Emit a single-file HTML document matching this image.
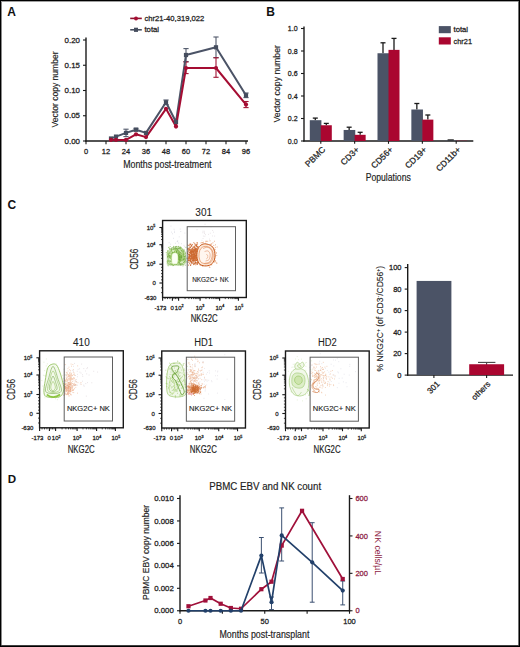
<!DOCTYPE html>
<html><head><meta charset="utf-8"><style>
html,body{margin:0;padding:0;background:#fff;}
svg{display:block;}
svg text{font-family:"Liberation Sans", sans-serif;}
</style></head><body>
<svg width="520" height="647" viewBox="0 0 520 647" font-family="Liberation Sans, sans-serif">
<rect width="520" height="647" fill="#fff"/>
<text x="7.2" y="15.8" font-size="12" font-weight="bold" fill="#111">A</text>
<text x="266.2" y="15.6" font-size="12" font-weight="bold" fill="#111">B</text>
<text x="7.4" y="208.8" font-size="12" font-weight="bold" fill="#111">C</text>
<text x="7.7" y="482.6" font-size="11.6" font-weight="bold" fill="#111">D</text>
<line x1="86" y1="37.5" x2="86" y2="141.6" stroke="#1a1a1a" stroke-width="1.4"/>
<line x1="85.3" y1="141" x2="248" y2="141" stroke="#1a1a1a" stroke-width="1.4"/>
<line x1="83" y1="141" x2="86" y2="141" stroke="#1a1a1a" stroke-width="1.1"/>
<text x="80" y="143.6" font-size="7.5" text-anchor="end" textLength="15.4" lengthAdjust="spacingAndGlyphs" fill="#222" stroke="#222" stroke-width="0.26">0.00</text>
<line x1="83" y1="115.75" x2="86" y2="115.75" stroke="#1a1a1a" stroke-width="1.1"/>
<text x="80" y="118.35" font-size="7.5" text-anchor="end" textLength="15.4" lengthAdjust="spacingAndGlyphs" fill="#222" stroke="#222" stroke-width="0.26">0.05</text>
<line x1="83" y1="90.5" x2="86" y2="90.5" stroke="#1a1a1a" stroke-width="1.1"/>
<text x="80" y="93.1" font-size="7.5" text-anchor="end" textLength="15.4" lengthAdjust="spacingAndGlyphs" fill="#222" stroke="#222" stroke-width="0.26">0.10</text>
<line x1="83" y1="65.25" x2="86" y2="65.25" stroke="#1a1a1a" stroke-width="1.1"/>
<text x="80" y="67.85" font-size="7.5" text-anchor="end" textLength="15.4" lengthAdjust="spacingAndGlyphs" fill="#222" stroke="#222" stroke-width="0.26">0.15</text>
<line x1="83" y1="40" x2="86" y2="40" stroke="#1a1a1a" stroke-width="1.1"/>
<text x="80" y="42.6" font-size="7.5" text-anchor="end" textLength="15.4" lengthAdjust="spacingAndGlyphs" fill="#222" stroke="#222" stroke-width="0.26">0.20</text>
<line x1="86" y1="141" x2="86" y2="144.2" stroke="#1a1a1a" stroke-width="1.1"/>
<text x="86" y="154.3" font-size="7.5" text-anchor="middle" fill="#222" stroke="#222" stroke-width="0.26">0</text>
<line x1="106" y1="141" x2="106" y2="144.2" stroke="#1a1a1a" stroke-width="1.1"/>
<text x="106" y="154.3" font-size="7.5" text-anchor="middle" fill="#222" stroke="#222" stroke-width="0.26">12</text>
<line x1="126" y1="141" x2="126" y2="144.2" stroke="#1a1a1a" stroke-width="1.1"/>
<text x="126" y="154.3" font-size="7.5" text-anchor="middle" fill="#222" stroke="#222" stroke-width="0.26">24</text>
<line x1="146" y1="141" x2="146" y2="144.2" stroke="#1a1a1a" stroke-width="1.1"/>
<text x="146" y="154.3" font-size="7.5" text-anchor="middle" fill="#222" stroke="#222" stroke-width="0.26">36</text>
<line x1="166" y1="141" x2="166" y2="144.2" stroke="#1a1a1a" stroke-width="1.1"/>
<text x="166" y="154.3" font-size="7.5" text-anchor="middle" fill="#222" stroke="#222" stroke-width="0.26">48</text>
<line x1="186" y1="141" x2="186" y2="144.2" stroke="#1a1a1a" stroke-width="1.1"/>
<text x="186" y="154.3" font-size="7.5" text-anchor="middle" fill="#222" stroke="#222" stroke-width="0.26">60</text>
<line x1="206" y1="141" x2="206" y2="144.2" stroke="#1a1a1a" stroke-width="1.1"/>
<text x="206" y="154.3" font-size="7.5" text-anchor="middle" fill="#222" stroke="#222" stroke-width="0.26">72</text>
<line x1="226" y1="141" x2="226" y2="144.2" stroke="#1a1a1a" stroke-width="1.1"/>
<text x="226" y="154.3" font-size="7.5" text-anchor="middle" fill="#222" stroke="#222" stroke-width="0.26">84</text>
<line x1="246" y1="141" x2="246" y2="144.2" stroke="#1a1a1a" stroke-width="1.1"/>
<text x="246" y="154.3" font-size="7.5" text-anchor="middle" fill="#222" stroke="#222" stroke-width="0.26">96</text>
<text x="123.2" y="167.6" font-size="10" textLength="88.3" lengthAdjust="spacingAndGlyphs" fill="#222" stroke="#222" stroke-width="0.17">Months post-treatment</text>
<text transform="translate(58,89.4) rotate(-90)" font-size="9.8" text-anchor="middle" textLength="76" lengthAdjust="spacingAndGlyphs" fill="#222" stroke="#222" stroke-width="0.17">Vector copy number</text>
<line x1="126" y1="129.2" x2="126" y2="136.6" stroke="#50586a" stroke-width="1.1"/>
<line x1="123.4" y1="129.2" x2="128.6" y2="129.2" stroke="#50586a" stroke-width="1.1"/>
<line x1="123.4" y1="136.6" x2="128.6" y2="136.6" stroke="#50586a" stroke-width="1.1"/>
<line x1="136" y1="128.3" x2="136" y2="131" stroke="#50586a" stroke-width="1.1"/>
<line x1="133.4" y1="128.3" x2="138.6" y2="128.3" stroke="#50586a" stroke-width="1.1"/>
<line x1="133.4" y1="131" x2="138.6" y2="131" stroke="#50586a" stroke-width="1.1"/>
<line x1="166" y1="100" x2="166" y2="104.6" stroke="#50586a" stroke-width="1.1"/>
<line x1="163.4" y1="100" x2="168.6" y2="100" stroke="#50586a" stroke-width="1.1"/>
<line x1="163.4" y1="104.6" x2="168.6" y2="104.6" stroke="#50586a" stroke-width="1.1"/>
<line x1="186" y1="48.6" x2="186" y2="61.5" stroke="#50586a" stroke-width="1.1"/>
<line x1="183.4" y1="48.6" x2="188.6" y2="48.6" stroke="#50586a" stroke-width="1.1"/>
<line x1="183.4" y1="61.5" x2="188.6" y2="61.5" stroke="#50586a" stroke-width="1.1"/>
<line x1="216" y1="37" x2="216" y2="57.6" stroke="#50586a" stroke-width="1.1"/>
<line x1="213.4" y1="37" x2="218.6" y2="37" stroke="#50586a" stroke-width="1.1"/>
<line x1="213.4" y1="57.6" x2="218.6" y2="57.6" stroke="#50586a" stroke-width="1.1"/>
<line x1="246" y1="93" x2="246" y2="97.6" stroke="#50586a" stroke-width="1.1"/>
<line x1="243.4" y1="93" x2="248.6" y2="93" stroke="#50586a" stroke-width="1.1"/>
<line x1="243.4" y1="97.6" x2="248.6" y2="97.6" stroke="#50586a" stroke-width="1.1"/>
<line x1="186" y1="62" x2="186" y2="73.6" stroke="#a01535" stroke-width="1.1"/>
<line x1="183.4" y1="62" x2="188.6" y2="62" stroke="#a01535" stroke-width="1.1"/>
<line x1="183.4" y1="73.6" x2="188.6" y2="73.6" stroke="#a01535" stroke-width="1.1"/>
<line x1="216" y1="57.8" x2="216" y2="77.3" stroke="#a01535" stroke-width="1.1"/>
<line x1="213.4" y1="57.8" x2="218.6" y2="57.8" stroke="#a01535" stroke-width="1.1"/>
<line x1="213.4" y1="77.3" x2="218.6" y2="77.3" stroke="#a01535" stroke-width="1.1"/>
<line x1="246" y1="101.5" x2="246" y2="107.6" stroke="#a01535" stroke-width="1.1"/>
<line x1="243.4" y1="101.5" x2="248.6" y2="101.5" stroke="#a01535" stroke-width="1.1"/>
<line x1="243.4" y1="107.6" x2="248.6" y2="107.6" stroke="#a01535" stroke-width="1.1"/>
<polyline points="111,138.5 116,136.6 126,132.9 136,129.7 146,132.9 166,102.3 176,122 186,55 216,47.3 246,95.3" fill="none" stroke="#4b5366" stroke-width="2" stroke-linejoin="round"/>
<polyline points="111,139.9 116,139.9 126,139.9 136,134.3 146,137.1 166,108.8 176,126.6 186,68 216,68 246,104.6" fill="none" stroke="#a50d33" stroke-width="2" stroke-linejoin="round"/>
<rect x="108.9" y="136.4" width="4.2" height="4.2" fill="#454d5e"/>
<rect x="113.9" y="134.5" width="4.2" height="4.2" fill="#454d5e"/>
<rect x="123.9" y="130.8" width="4.2" height="4.2" fill="#454d5e"/>
<rect x="133.9" y="127.6" width="4.2" height="4.2" fill="#454d5e"/>
<rect x="143.9" y="130.8" width="4.2" height="4.2" fill="#454d5e"/>
<rect x="163.9" y="100.2" width="4.2" height="4.2" fill="#454d5e"/>
<rect x="173.9" y="119.9" width="4.2" height="4.2" fill="#454d5e"/>
<rect x="183.9" y="52.9" width="4.2" height="4.2" fill="#454d5e"/>
<rect x="213.9" y="45.2" width="4.2" height="4.2" fill="#454d5e"/>
<rect x="243.9" y="93.2" width="4.2" height="4.2" fill="#454d5e"/>
<circle cx="111" cy="139.9" r="2.1" fill="#a50d33"/>
<circle cx="116" cy="139.9" r="2.1" fill="#a50d33"/>
<circle cx="126" cy="139.9" r="2.1" fill="#a50d33"/>
<circle cx="136" cy="134.3" r="2.1" fill="#a50d33"/>
<circle cx="146" cy="137.1" r="2.1" fill="#a50d33"/>
<circle cx="166" cy="108.8" r="2.1" fill="#a50d33"/>
<circle cx="176" cy="126.6" r="2.1" fill="#a50d33"/>
<circle cx="186" cy="68" r="2.1" fill="#a50d33"/>
<circle cx="216" cy="68" r="2.1" fill="#a50d33"/>
<circle cx="246" cy="104.6" r="2.1" fill="#a50d33"/>
<line x1="130.2" y1="18.4" x2="141.8" y2="18.4" stroke="#8e0f2c" stroke-width="1.6"/>
<circle cx="136" cy="18.4" r="2" fill="#a50d33"/>
<text x="144.4" y="21" font-size="8" textLength="59.9" lengthAdjust="spacingAndGlyphs" fill="#222" stroke="#222" stroke-width="0.26">chr21-40,319,022</text>
<line x1="130.2" y1="29.8" x2="141.8" y2="29.8" stroke="#474f60" stroke-width="1.6"/>
<rect x="134" y="27.7" width="4" height="4.2" fill="#454d5e"/>
<text x="144.4" y="32.3" font-size="8" textLength="14.7" lengthAdjust="spacingAndGlyphs" fill="#222" stroke="#222" stroke-width="0.26">total</text>
<line x1="304" y1="26.5" x2="304" y2="141.6" stroke="#1a1a1a" stroke-width="1.4"/>
<line x1="303.3" y1="141" x2="473.3" y2="141" stroke="#1a1a1a" stroke-width="1.4"/>
<line x1="301" y1="141" x2="304" y2="141" stroke="#1a1a1a" stroke-width="1.1"/>
<text x="297.6" y="143.6" font-size="7.5" text-anchor="end" textLength="9.8" lengthAdjust="spacingAndGlyphs" fill="#222" stroke="#222" stroke-width="0.26">0.0</text>
<line x1="301" y1="118.5" x2="304" y2="118.5" stroke="#1a1a1a" stroke-width="1.1"/>
<text x="297.6" y="121.1" font-size="7.5" text-anchor="end" textLength="9.8" lengthAdjust="spacingAndGlyphs" fill="#222" stroke="#222" stroke-width="0.26">0.2</text>
<line x1="301" y1="96" x2="304" y2="96" stroke="#1a1a1a" stroke-width="1.1"/>
<text x="297.6" y="98.6" font-size="7.5" text-anchor="end" textLength="9.8" lengthAdjust="spacingAndGlyphs" fill="#222" stroke="#222" stroke-width="0.26">0.4</text>
<line x1="301" y1="73.5" x2="304" y2="73.5" stroke="#1a1a1a" stroke-width="1.1"/>
<text x="297.6" y="76.1" font-size="7.5" text-anchor="end" textLength="9.8" lengthAdjust="spacingAndGlyphs" fill="#222" stroke="#222" stroke-width="0.26">0.6</text>
<line x1="301" y1="51" x2="304" y2="51" stroke="#1a1a1a" stroke-width="1.1"/>
<text x="297.6" y="53.6" font-size="7.5" text-anchor="end" textLength="9.8" lengthAdjust="spacingAndGlyphs" fill="#222" stroke="#222" stroke-width="0.26">0.8</text>
<line x1="301" y1="28.5" x2="304" y2="28.5" stroke="#1a1a1a" stroke-width="1.1"/>
<text x="297.6" y="31.1" font-size="7.5" text-anchor="end" textLength="9.8" lengthAdjust="spacingAndGlyphs" fill="#222" stroke="#222" stroke-width="0.26">1.0</text>
<line x1="320.8" y1="141" x2="320.8" y2="143.8" stroke="#1a1a1a" stroke-width="1.1"/>
<line x1="315.3" y1="118.1" x2="315.3" y2="120.19" stroke="#1a1a1a" stroke-width="1.3"/>
<line x1="312.8" y1="118.1" x2="317.8" y2="118.1" stroke="#1a1a1a" stroke-width="1.3"/>
<line x1="326.3" y1="123.4" x2="326.3" y2="125.25" stroke="#1a1a1a" stroke-width="1.3"/>
<line x1="323.8" y1="123.4" x2="328.8" y2="123.4" stroke="#1a1a1a" stroke-width="1.3"/>
<rect x="309.8" y="120.19" width="11.6" height="20.81" fill="#4b5366"/>
<rect x="320.8" y="125.25" width="11" height="15.75" fill="#aa0630"/>
<line x1="354.65" y1="141" x2="354.65" y2="143.8" stroke="#1a1a1a" stroke-width="1.1"/>
<line x1="349.15" y1="127.2" x2="349.15" y2="129.97" stroke="#1a1a1a" stroke-width="1.3"/>
<line x1="346.65" y1="127.2" x2="351.65" y2="127.2" stroke="#1a1a1a" stroke-width="1.3"/>
<line x1="360.15" y1="132.3" x2="360.15" y2="134.81" stroke="#1a1a1a" stroke-width="1.3"/>
<line x1="357.65" y1="132.3" x2="362.65" y2="132.3" stroke="#1a1a1a" stroke-width="1.3"/>
<rect x="343.65" y="129.97" width="11.6" height="11.03" fill="#4b5366"/>
<rect x="354.65" y="134.81" width="11" height="6.19" fill="#aa0630"/>
<line x1="388.5" y1="141" x2="388.5" y2="143.8" stroke="#1a1a1a" stroke-width="1.1"/>
<line x1="383" y1="42.8" x2="383" y2="53.25" stroke="#1a1a1a" stroke-width="1.3"/>
<line x1="380.5" y1="42.8" x2="385.5" y2="42.8" stroke="#1a1a1a" stroke-width="1.3"/>
<line x1="394" y1="38.4" x2="394" y2="49.88" stroke="#1a1a1a" stroke-width="1.3"/>
<line x1="391.5" y1="38.4" x2="396.5" y2="38.4" stroke="#1a1a1a" stroke-width="1.3"/>
<rect x="377.5" y="53.25" width="11.6" height="87.75" fill="#4b5366"/>
<rect x="388.5" y="49.88" width="11" height="91.12" fill="#aa0630"/>
<line x1="422.35" y1="141" x2="422.35" y2="143.8" stroke="#1a1a1a" stroke-width="1.1"/>
<line x1="416.85" y1="103.5" x2="416.85" y2="109.5" stroke="#1a1a1a" stroke-width="1.3"/>
<line x1="414.35" y1="103.5" x2="419.35" y2="103.5" stroke="#1a1a1a" stroke-width="1.3"/>
<line x1="427.85" y1="115" x2="427.85" y2="119.62" stroke="#1a1a1a" stroke-width="1.3"/>
<line x1="425.35" y1="115" x2="430.35" y2="115" stroke="#1a1a1a" stroke-width="1.3"/>
<rect x="411.35" y="109.5" width="11.6" height="31.5" fill="#4b5366"/>
<rect x="422.35" y="119.62" width="11" height="21.38" fill="#aa0630"/>
<line x1="456.2" y1="141" x2="456.2" y2="143.8" stroke="#1a1a1a" stroke-width="1.1"/>
<rect x="445.2" y="140.55" width="11.6" height="0.45" fill="#4b5366"/>
<rect x="456.2" y="140.78" width="11" height="0.22" fill="#aa0630"/>
<line x1="447.6" y1="139.9" x2="453.8" y2="139.9" stroke="#222" stroke-width="1.2"/>
<text transform="translate(325.8,150.2) rotate(-45)" font-size="8.5" text-anchor="end" fill="#222" stroke="#222" stroke-width="0.26">PBMC</text>
<text transform="translate(359.65,150.2) rotate(-45)" font-size="8.5" text-anchor="end" fill="#222" stroke="#222" stroke-width="0.26">CD3+</text>
<text transform="translate(393.5,150.2) rotate(-45)" font-size="8.5" text-anchor="end" fill="#222" stroke="#222" stroke-width="0.26">CD56+</text>
<text transform="translate(427.35,150.2) rotate(-45)" font-size="8.5" text-anchor="end" fill="#222" stroke="#222" stroke-width="0.26">CD19+</text>
<text transform="translate(461.2,150.2) rotate(-45)" font-size="8.5" text-anchor="end" fill="#222" stroke="#222" stroke-width="0.26">CD11b+</text>
<text x="365.7" y="180.5" font-size="10" textLength="45.1" lengthAdjust="spacingAndGlyphs" fill="#222" stroke="#222" stroke-width="0.17">Populations</text>
<text transform="translate(280.2,83.8) rotate(-90)" font-size="9.8" text-anchor="middle" textLength="77.4" lengthAdjust="spacingAndGlyphs" fill="#222" stroke="#222" stroke-width="0.17">Vector copy number</text>
<rect x="438.8" y="26.1" width="12" height="7.1" fill="#4b5366"/>
<rect x="438.8" y="37.3" width="12" height="7.2" fill="#aa0630"/>
<text x="453.5" y="32.3" font-size="8" textLength="14.5" lengthAdjust="spacingAndGlyphs" fill="#222" stroke="#222" stroke-width="0.26">total</text>
<text x="453.5" y="44.2" font-size="8" textLength="18.5" lengthAdjust="spacingAndGlyphs" fill="#222" stroke="#222" stroke-width="0.26">chr21</text>
<path d="M176.6 246.7 C178.27 246.73 180.22 247.03 181.6 248 C182.98 248.97 184.23 250.75 184.9 252.5 C185.57 254.25 185.65 256.57 185.6 258.5 C185.55 260.43 186.1 263 184.6 264.1 C183.1 265.2 179.27 265.07 176.6 265.1 C173.93 265.13 170.17 265.4 168.6 264.3 C167.03 263.2 167.27 260.63 167.2 258.5 C167.13 256.37 167.47 253.28 168.2 251.5 C168.93 249.72 170.2 248.6 171.6 247.8 C173 247 174.93 246.67 176.6 246.7Z" fill="#d6ebbc" stroke="none" stroke-width="0.6" opacity="0.9"/>
<path d="M175.37 259.16h0 M175.51 254.86h0 M172.14 255.39h0 M181.94 258.71h0 M181.58 257.79h0 M178.49 257.46h0 M168.6 260.95h0 M179.03 259.09h0 M168.48 247.43h0 M172.33 254.07h0 M178.07 256.26h0 M179.1 253.16h0 M178.08 258.55h0 M173.43 265.43h0 M179.27 262.72h0 M173.62 252.65h0 M174.95 255.95h0 M179.63 257.79h0 M174.45 251.52h0 M174.1 262.85h0 M172.72 257.77h0 M178.65 248.75h0 M176.83 263.29h0 M166.93 254.83h0 M176.09 252.25h0 M178.99 256.18h0 M169.57 260.8h0 M179.81 261.42h0 M183.51 258.38h0 M177.17 249.74h0 M179.55 253.32h0 M174.43 249.92h0 M171.96 253.74h0 M169.6 257.74h0 M183.53 259.51h0 M178.32 252.67h0 M171.23 261.58h0 M181.89 257.32h0 M177.78 258.76h0 M184.25 259.72h0 M179.09 259.35h0 M169.07 263.17h0 M181.18 259.25h0 M167.13 253.2h0 M180.64 247.08h0 M175.72 261.8h0 M170.31 264.87h0 M179.25 255.72h0 M178.16 259.88h0 M177.18 262.46h0 M173.42 254.34h0 M181.6 256.64h0 M172.37 261.42h0 M183.63 254.19h0 M169.98 255.8h0 M175.88 254.95h0 M183.34 251.16h0 M182.65 249.9h0 M172.82 259.78h0 M182.02 260.97h0 M178.26 257.24h0 M177.33 259.49h0 M175.75 257.94h0 M179.35 256.5h0 M180.27 259.44h0 M186.25 258.19h0 M174.55 254.56h0 M176.54 261.3h0 M174.98 258.51h0 M171.21 257.77h0 M178.51 257.74h0 M174.53 259.91h0 M177.95 253.79h0 M173.94 255.98h0 M175.52 256.17h0 M181.44 250.42h0 M176.28 261.46h0 M180.71 264.25h0 M168.43 254.66h0 M174.96 259.74h0 M181.83 248.97h0 M179.88 248.74h0 M177.44 262.71h0 M175.88 257.49h0 M180.43 257.24h0 M176.18 264.47h0 M181.63 254.97h0 M180.99 255.12h0 M177.24 260.17h0 M177.67 259.82h0 M169.27 248.65h0 M179.55 251.49h0 M171.67 248.86h0 M182.68 260.38h0 M183.67 251.62h0 M176.6 250.57h0 M180.28 264.76h0 M172.33 264.61h0 M181.34 255.58h0 M167.13 263.81h0 M176.14 253.37h0 M178.52 258.63h0 M183.79 251.2h0 M182.05 264.23h0 M183.57 255.56h0 M173.03 261.8h0 M177.15 257.15h0 M183.44 255.13h0 M167.7 260.76h0 M178.12 253.32h0 M176.55 260.83h0 M176.98 263.4h0 M176.31 261.91h0 M183.76 264.87h0 M173.38 261.08h0 M167.6 250.87h0 M167.18 262.06h0 M170.69 256.43h0 M175.68 256.35h0 M173.76 257.72h0 M185.2 256.73h0 M179.15 261.7h0 M175.65 249.95h0 M173.93 262.08h0 M168.7 253.39h0 M181.44 260.62h0 M176.64 260.69h0 M177.4 250.37h0 M169.09 253.18h0 M181.03 253.56h0 M172.27 252.49h0 M169.25 255.89h0 M170.94 258.39h0 M173.52 246.4h0 M180.08 255.07h0 M178 254.12h0 M180.34 260.39h0 M179.8 258.2h0 M183 259.93h0 M180.9 263.31h0 M175.17 254.06h0 M185.91 247.36h0 M172.15 260.09h0 M185.65 255.87h0 M179.29 261.19h0 M172.25 256.04h0 M178.01 260.79h0 M176.43 255.48h0 M171.72 254.63h0 M180.88 257.03h0 M172.51 252.12h0 M179.58 259h0 M184.68 258.72h0 M176.28 259.22h0 M167.27 261.87h0 M178.16 252.85h0 M182.96 265.91h0 M169.87 253.04h0 M178 257.45h0 M174.69 251.43h0 M186.78 261.89h0 M170.87 249.51h0 M184.78 261.64h0 M185.34 260.71h0 M172.41 257.86h0 M166.23 252.61h0 M176.32 259.22h0 M173.11 255.85h0 M178.8 258.46h0 M179.66 257.59h0 M175.05 260.6h0 M176.84 252.2h0 M173.6 256.5h0 M176.07 257.32h0 M176.6 257.41h0 M175.96 249.96h0 M178.62 261.98h0 M178.69 255.52h0 M178.74 251.48h0 M167.5 256.81h0 M172.13 260.35h0 M171.61 264.71h0 M174.77 249.38h0 M172.94 259.21h0 M178.98 257.42h0 M183.72 260.17h0 M176.5 259.6h0 M184.54 261.55h0 M181.51 250.87h0 M175.89 260.3h0 M175.18 262.06h0 M179.46 261.22h0 M182.55 255.38h0 M174.95 261.05h0 M181.31 256.53h0 M171 257.48h0 M178.33 262.37h0 M180.36 256.63h0 M180.7 259.31h0 M177.59 256.79h0 M175.43 260.07h0 M171.54 253.23h0 M176.62 248.89h0 M173.32 259.46h0 M179.32 256.22h0 M175.49 249.13h0 M185.37 259.18h0 M181.85 251.91h0 M175.71 247.04h0 M180.35 261.36h0 M167.49 256.23h0 M179.63 247.34h0 M167.84 250.96h0 M173.58 249.21h0 M176.75 257.8h0 M179.64 260.15h0 M183.81 262.55h0 M170.3 253.87h0 M171.51 250.9h0 M176.21 256.53h0 M178.95 248.25h0 M170.66 256.38h0 M175.64 254.88h0 M176.3 252.55h0 M179.97 258.34h0 M176.18 253.01h0 M171.89 256.69h0 M169.38 257.54h0 M177.31 249.34h0 M175.4 254.87h0 M178.81 259.68h0 M176.43 252.07h0 M175.91 256.16h0 M180.13 258.03h0 M173.13 249.46h0 M174.81 252.65h0 M171.26 255.9h0 M174.24 257.05h0 M179.11 254.35h0 M181.89 257.13h0 M172.99 257.78h0 M178.15 263.16h0 M180.28 261.43h0 M179.05 255.69h0 M179.04 250.89h0 M182.27 251.21h0 M175.53 256.6h0 M182.18 256.64h0 M172.72 257.84h0 M179.39 260.19h0 M172.89 265.61h0 M184.6 256.59h0 M177.89 254.27h0 M183.39 252.83h0 M179.84 254.01h0 M173.27 260.24h0 M183 256.45h0 M173.35 260.72h0 M176.36 258.12h0 M183.91 262.38h0 M176.62 260.59h0 M173.49 256.27h0 M168.2 265.79h0 M183.16 250.18h0 M169.38 248.07h0 M182.24 254.11h0 M176.31 254.87h0 M176.02 250.84h0 M176.72 249.02h0 M176.26 258.11h0 M178.84 255.3h0 M172.26 257.33h0 M174.27 264.64h0 M180.29 255.9h0 M174.34 252.85h0 M172.1 254.66h0 M178.01 259.18h0 M173.22 256.57h0 M174.1 257.38h0 M177.34 258.62h0 M175.45 258.4h0 M176.85 260.51h0 M167.52 251.9h0 M176.59 251.13h0 M171.59 259.76h0 M173.48 259.8h0 M180.18 258.09h0 M179.04 255.96h0 M169.84 256.34h0 M178.78 253.75h0 M176.12 260.4h0 M172.39 259.83h0 M185.54 253.62h0 M177.3 255.72h0 M183.99 258.15h0 M180.91 252.91h0 M176.52 256.45h0 M168.08 263.99h0 M180.92 247.4h0 M180.17 255.82h0 M178.75 258.41h0 M169.4 255.4h0 M183.76 253.51h0 M171.69 249.43h0 M170.74 258.24h0 M184.72 258.73h0 M174.11 252.99h0 M179.14 259.35h0 M171.73 250.42h0 M178 257.79h0 M170.33 255.45h0 M174 258.89h0 M176.04 256.05h0 M174.9 261.98h0 M183.28 254.59h0 M180.66 252.56h0 M176.95 260.4h0 M183.87 254.51h0 M176.24 257.52h0 M169.41 256.58h0 M173.36 258.43h0 M176.78 257.86h0 M173.97 261.12h0 M175.29 253.35h0 M178.89 248.35h0 M173.35 256.39h0 M180.67 255.65h0 M178.08 253.09h0 M178.05 265.15h0 M173.51 256.59h0 M177.43 261.83h0 M179.51 260.64h0 M177.58 257.82h0 M181.06 258.42h0 M184.59 250.06h0 M180.5 254.56h0 M176.57 255.18h0 M174.2 252.14h0 M173.57 259.82h0 M176.78 256.84h0 M175.77 261.25h0 M178.97 255.76h0 M179.79 255.71h0 M171.07 264.07h0 M178.83 251.52h0 M181.78 258.29h0 M169.09 264.87h0 M178.2 261.14h0 M177.55 255.72h0 M169.17 261.55h0 M176.74 255.01h0 M178.28 256.91h0 M179.84 254.57h0 M174.57 260.01h0 M183.02 254.61h0 M176.02 264.73h0 M175.04 260.32h0 M184.66 256.71h0 M182.49 252.81h0 M177.6 256.1h0 M177.15 262.37h0 M173.84 259.09h0 M171.54 259.08h0 M179.35 255.06h0 M179.15 248.44h0 M180.25 248.47h0 M173.26 253.61h0 M174.67 260.97h0 M176.99 254.43h0 M179.21 264.72h0 M176.63 258.4h0 M182.55 257.89h0 M176.41 258.67h0 M181.24 259.98h0 M175.29 251.02h0 M177.09 261.87h0 M171.37 251.16h0 M176.48 246.43h0 M175.35 254.23h0 M178.76 252.85h0 M172.37 254.45h0 M176.36 253.04h0 M176.66 260.4h0" stroke="#86bb4a" stroke-width="1.0" stroke-linecap="round" opacity="0.85"/>
<path d="M180.75 264.17h0 M173.86 254.61h0 M167.91 265.05h0 M174.06 256.35h0 M178.43 250.39h0 M178.22 256.38h0 M170.21 257.81h0 M180.78 248.09h0 M179.43 257.44h0 M178.26 258.49h0 M181.16 255.49h0 M179.66 254.66h0 M179.15 252.84h0 M176.22 264.29h0 M178.16 255.79h0 M172.59 252.94h0 M177.28 260.73h0 M178.09 258.86h0 M176.45 262.58h0 M175.23 254.03h0 M179.71 256.79h0 M175.63 253.91h0 M175.7 259.31h0 M177.84 251.06h0 M178.09 257.31h0 M173.1 259.98h0 M175.62 254.99h0 M179.39 262.44h0 M174.19 258.47h0 M174.87 261.88h0 M174.33 260.15h0 M175.08 258.75h0 M176.27 253.49h0 M184.13 256.86h0 M170.84 260.34h0 M170.57 261.68h0 M174.58 257.15h0 M181.01 257.03h0 M171.73 248.87h0 M180.74 259.83h0 M173.74 260.37h0 M178.34 259.41h0 M168.69 255.14h0 M179.75 259.8h0 M177.19 258.71h0 M185.53 252.21h0 M175.45 256.66h0 M179.7 254.51h0 M180.62 252.95h0 M177.53 254.13h0 M177.15 253.39h0 M171.01 261.42h0 M177.66 253.99h0 M177.3 260.96h0 M173.18 256h0 M178.49 258.87h0 M175.43 247.02h0 M180.95 257.98h0 M176.65 255.25h0 M177.52 254.58h0 M173.01 253.17h0 M174.51 253.74h0 M172.54 259.36h0 M172.02 259.47h0 M173.05 258.09h0 M181.41 257.41h0 M174.04 256.72h0 M177.12 248.7h0 M174.47 257.23h0 M174.96 256.86h0 M179.17 259.95h0 M179.77 259.15h0 M175.59 256.42h0 M175.65 255.09h0 M175.97 248.74h0 M175.43 256.39h0 M173.19 256.39h0 M178.4 255.76h0 M175.88 248.29h0 M167.84 257.08h0 M178.42 255.14h0 M178.53 246.41h0 M179.58 258.17h0 M176.68 253.86h0 M178.83 254.32h0 M177.38 254.2h0 M168.74 256.36h0 M177.31 259.89h0 M173.53 256.35h0 M178.76 257.15h0 M180.95 265.46h0 M173.42 247.86h0 M179.6 263.38h0 M179.83 260.16h0 M174.43 253.29h0 M179.71 252.4h0 M170.25 252.01h0 M185.32 265.16h0 M174.2 253.22h0 M177.41 253.13h0 M181.19 256.15h0 M172.8 262.39h0 M174.56 257.5h0 M176.56 255.09h0 M177.74 253.38h0 M170.14 246.56h0 M172.17 253.09h0 M176.52 256.75h0 M178.55 257.04h0 M173.82 253.31h0 M169.18 255.74h0 M178.3 258.88h0 M176.18 255.72h0 M179.88 256.57h0 M179.18 259.12h0 M177.35 262.38h0 M174.6 254.89h0 M173.77 252.91h0 M182.05 264.42h0 M176.68 259.06h0 M180.71 260.13h0 M180.82 250.82h0 M174.36 258.54h0 M181.62 256.97h0 M173.6 254.9h0 M174.29 252.64h0 M181.85 253.68h0 M180.75 258.01h0 M174.46 258.35h0 M182.28 259.3h0 M181.02 256.94h0 M178.41 255.6h0 M178.09 262.35h0 M171.59 256.22h0 M177.44 253.93h0 M175.52 260.04h0 M183.61 259.33h0 M177.74 249.52h0 M183.35 256.85h0 M176.48 251.47h0 M176.4 251.57h0 M176.85 258.6h0 M176.71 257.76h0 M173.62 262.93h0 M174.31 248.32h0 M175.94 253.06h0 M173.07 254.9h0 M177.62 251.18h0 M176.12 262.92h0 M178.99 255.82h0 M177.05 255.96h0 M176.43 259.8h0 M176.52 252.5h0" stroke="#5f9a2c" stroke-width="0.9" stroke-linecap="round" opacity="0.7"/>
<path d="M179.21 236.84h0 M177.19 253.56h0 M172.41 233.75h0 M170.95 226.13h0 M169.09 242.69h0 M174.05 229.29h0 M170.67 244.2h0 M173.5 238.3h0 M177.92 248.64h0 M184.36 246.69h0 M177.17 241.61h0 M183.81 249.07h0 M175.36 243.25h0 M177.75 240.81h0 M174.6 232.54h0 M174.46 231.24h0 M181.5 243.72h0 M171.78 248.87h0 M180.17 229.05h0 M183.97 245.36h0 M184.86 233.11h0 M178.72 243.04h0 M177.41 241.53h0 M180.81 231.53h0 M171.63 232.13h0" stroke="#c0c0d0" stroke-width="0.7" stroke-linecap="round" opacity="0.7"/>
<path d="M176.6 246.7 C178.27 246.73 180.22 247.03 181.6 248 C182.98 248.97 184.23 250.75 184.9 252.5 C185.57 254.25 185.65 256.57 185.6 258.5 C185.55 260.43 186.1 263 184.6 264.1 C183.1 265.2 179.27 265.07 176.6 265.1 C173.93 265.13 170.17 265.4 168.6 264.3 C167.03 263.2 167.27 260.63 167.2 258.5 C167.13 256.37 167.47 253.28 168.2 251.5 C168.93 249.72 170.2 248.6 171.6 247.8 C173 247 174.93 246.67 176.6 246.7Z" fill="none" stroke="#5f9a2c" stroke-width="0.5" opacity="0.7"/>
<path d="M176.57 248.32 C177.99 248.35 179.64 248.6 180.82 249.43 C182 250.25 183.06 251.76 183.62 253.25 C184.19 254.74 184.26 256.71 184.22 258.35 C184.18 259.99 184.65 262.18 183.37 263.11 C182.09 264.05 178.84 263.93 176.57 263.96 C174.3 263.99 171.1 264.21 169.77 263.28 C168.44 262.34 168.64 260.16 168.58 258.35 C168.52 256.54 168.81 253.92 169.43 252.4 C170.05 250.88 171.13 249.94 172.32 249.25 C173.51 248.57 175.15 248.29 176.57 248.32Z" fill="none" stroke="#5f9a2c" stroke-width="0.5" opacity="0.7"/>
<path d="M174.9 252.7 C175.8 252.7 177.07 252.95 177.6 254 C178.13 255.05 178.13 257.42 178.1 259 C178.07 260.58 177.93 262.65 177.4 263.5 C176.87 264.35 175.77 264.1 174.9 264.1 C174.03 264.1 172.75 264.35 172.2 263.5 C171.65 262.65 171.6 260.58 171.6 259 C171.6 257.42 171.65 255.05 172.2 254 C172.75 252.95 174 252.7 174.9 252.7Z" fill="#fbfff4" stroke="#a9d36e" stroke-width="0.5" opacity="1"/>
<path d="M191.59 251.85h0 M194.92 256.39h0 M193.71 251.48h0 M192.01 259.95h0 M196.35 255.52h0 M192.44 263.08h0 M191.46 258.37h0 M197.75 253.62h0 M196.57 249.2h0 M197.25 256.04h0 M187.89 258.48h0 M190.39 261.67h0 M191.16 254.14h0 M194.62 253.27h0 M194.53 252.12h0 M196.02 255.03h0 M197.78 255.17h0 M195.28 260.57h0 M189.7 263.04h0 M193.07 258.53h0 M192.28 249.2h0 M197.55 259.71h0 M199.14 259.46h0 M191.54 246.36h0 M191.26 251.49h0 M190.67 258.03h0 M194.78 253.6h0 M194.22 254.24h0 M194.37 258.91h0 M197.05 251.43h0 M188.18 262.42h0 M194.01 260.75h0 M187.68 253.28h0 M193.7 247.5h0 M191.74 258.77h0 M197.48 263.29h0 M190.49 247.71h0 M195.47 259.89h0 M194.29 248.23h0 M196.42 259.12h0 M195.59 252.47h0 M194.69 259.11h0 M191.59 245.41h0 M194.78 257.5h0 M193.65 259.62h0 M191.49 254.57h0 M192.5 257.97h0 M199.34 253.69h0 M201 262.95h0 M196.45 258.05h0 M199.97 254.06h0 M193.2 249.47h0 M195.3 261.99h0 M195.52 257.2h0 M192.88 255.88h0 M188.47 260.45h0 M192.12 249.26h0 M190.89 250.71h0 M196.68 260.5h0 M188.71 259.82h0 M196.8 251.99h0 M188.25 251.12h0 M191.32 256.78h0 M192.31 244.45h0 M194.44 247.02h0 M196.86 248.72h0 M191.11 250.56h0 M191.65 261.75h0 M196.67 258.13h0 M194.75 246.95h0 M191.73 252.13h0 M190.08 257.65h0 M190.93 251.31h0 M189.84 244.3h0 M195.74 261.92h0 M194.23 249.92h0 M197.98 256.55h0 M196.94 262.69h0 M197.66 252.7h0 M197.39 259.03h0 M188.07 252.89h0 M188.47 254.43h0 M195.68 249.45h0 M194.96 262.65h0 M188.83 260.51h0 M201.07 265.44h0 M192.84 256.4h0 M193.05 260.19h0 M197.34 255.45h0 M188.71 258.85h0 M191.91 258.27h0 M194.55 263.44h0 M197.7 252.65h0 M194.86 264.17h0 M191.67 257.25h0 M197.89 261.54h0 M195.47 248.13h0 M189.06 256.29h0 M190.5 260.92h0 M196.37 246.31h0 M190.65 255.86h0 M191.82 254.2h0 M195.29 250.79h0 M195.28 251.69h0 M191.64 257.79h0 M191.54 256.49h0 M199.36 255.14h0 M193.07 258.82h0 M192.28 260.63h0 M188.98 258.22h0 M191.76 250.85h0 M199.97 250.58h0 M199.92 258.42h0 M198.83 249.92h0 M197.92 262.58h0 M193.18 254.33h0 M202.44 255.92h0 M192.08 251.72h0 M195.21 256.72h0 M194.24 263.95h0 M192.42 257.46h0 M198.85 249.78h0 M197.34 264.53h0 M188.72 249.29h0 M189.86 245.4h0 M195.23 245.35h0 M195.4 262.56h0 M187.79 253.35h0 M190.95 253.62h0 M193.8 257.83h0 M192.35 255.08h0 M191.63 255.6h0 M189.38 255.33h0 M200.5 255.41h0 M189.06 256.34h0 M190.1 246.41h0 M190.95 258.83h0 M194.98 254.5h0 M190.26 249.39h0 M198.46 256.27h0 M190.17 244.02h0 M189.46 254.6h0 M194.36 254.18h0 M192.6 247.86h0 M189.82 263.78h0 M190.88 259.4h0 M187.5 253.57h0 M194.54 260.39h0 M189.56 258.1h0 M194.99 251.16h0 M195.32 250.33h0 M190.73 254.9h0 M190 247.39h0 M192.07 258.97h0 M192.14 261.58h0 M189.43 248.18h0 M199.18 257.07h0 M197 250.7h0 M196.5 256.35h0 M195.93 255.13h0 M197.94 251.62h0 M190.13 247.32h0 M197.78 251.16h0 M189.84 250.11h0 M192 248.39h0 M192.55 251.74h0 M191.62 250.01h0 M193.73 252.6h0 M194.01 256.3h0 M194.82 243.62h0 M191.67 250.86h0 M196.39 246.8h0 M191.03 253.47h0 M192.39 260.15h0 M192.01 260.02h0 M188.32 245.58h0 M197.99 257.27h0 M195.36 255.64h0 M195.34 248.68h0 M197.01 252.23h0 M197.15 255.46h0 M197.66 254.29h0 M192.18 256.26h0 M192.07 252.17h0 M193.97 255.75h0 M199.06 255.24h0 M200.37 264.37h0 M199.78 260.52h0 M194.07 255.71h0 M193.09 251.2h0 M193.36 251.67h0 M199.5 257.78h0 M191.99 245.04h0 M193.41 252.84h0 M189.69 249.09h0 M193.49 254.23h0 M198.8 255.7h0 M194.2 253.07h0 M191.42 262.8h0 M197.2 263.92h0 M192.34 255.16h0 M190.43 260.03h0 M188.58 257.94h0 M197.55 262.34h0 M190.22 260.67h0 M191.03 251.06h0 M188.84 261.01h0 M199.53 251.91h0 M190.87 253.24h0 M202.63 260.22h0 M191.65 245.67h0 M191.18 261.17h0 M200.32 253.61h0 M191.11 252.35h0 M189.69 260.53h0 M187.45 248.4h0 M194.64 251.03h0 M196.41 255.04h0 M189.37 258.23h0 M196.63 245.05h0 M200.17 257.58h0 M196.34 245.33h0 M191.01 253.18h0 M197.48 247.41h0 M190.42 244.45h0 M192.73 256.8h0 M187.53 251.93h0 M195.44 263.24h0 M195.99 253.42h0 M189.36 250.13h0 M191.21 255.76h0 M193.42 263.67h0 M194.63 249.43h0 M199.16 259.94h0 M193.96 251.25h0 M196.88 250.83h0 M188.85 256.02h0 M194.48 258.15h0 M195.96 262.33h0 M190.58 260.09h0 M190.05 258.61h0 M194.24 256.26h0 M197.08 254.91h0 M197.6 259.55h0 M194.09 252.05h0 M190.89 252.26h0 M192.87 254.87h0 M204.33 258.32h0 M196.37 250.52h0 M191.04 253.34h0 M194.29 249.61h0 M199.4 252.07h0 M197.48 242.85h0 M193.57 256.44h0 M194.29 258.13h0 M194.61 255.84h0 M194.71 253.98h0 M190.64 251.98h0 M200.24 264h0 M193.39 261.7h0 M187.88 244.94h0 M191.86 250.45h0 M191.59 255.98h0 M204.49 251.56h0 M193.78 256.44h0 M193.48 259.84h0 M199.99 248.53h0 M194.18 253.62h0 M194.88 247.04h0 M195.49 256h0 M193.87 242.69h0 M192.26 251.07h0 M188.51 250.24h0 M196.11 257.83h0 M193.52 257.67h0 M191.43 255.37h0 M193.75 257.88h0 M193.35 254.26h0 M193.12 251.65h0 M201.64 257.67h0 M198.65 246.91h0 M196.1 259.36h0 M200.39 261.84h0 M196.37 248.88h0 M190.47 256.4h0 M195.42 249.69h0 M192.22 252.92h0 M193.82 256.75h0 M192.57 248.57h0 M198.07 263.3h0 M193.22 260.33h0 M195.2 258.43h0 M195.33 251.03h0 M195.67 260.25h0 M190.37 265.22h0 M201.12 264.48h0 M200.76 258.86h0 M192.38 251.88h0 M190.67 255.6h0 M193.48 258.49h0 M201.79 254.86h0 M196.03 257.47h0 M194.58 253.91h0 M193.16 250.71h0 M194.24 254.87h0 M194.75 250.55h0 M193.74 255.25h0 M195.78 249.47h0 M195.11 260.11h0 M195.75 253.08h0 M191.83 253.77h0 M196.23 263.08h0 M193.03 251.66h0 M194.95 256.06h0 M190.33 251.17h0 M193.23 258.49h0 M189.3 249.71h0 M195.4 248.63h0 M193.99 256.83h0 M193.2 249.71h0 M193.38 253.27h0 M194.81 250.64h0 M197.53 246.29h0 M192.97 255.04h0 M197.06 251.84h0 M195.57 252.05h0 M196.26 264.03h0 M192.16 257.3h0 M190.26 260.06h0 M197.96 255.18h0 M189.51 257.09h0 M197.74 260.67h0 M196.53 245.48h0 M191.15 262.39h0 M189.19 260.88h0 M200.38 258.96h0 M197.63 253.27h0 M189.19 254.47h0 M192.88 254.75h0 M196.11 254.25h0 M194.29 257.21h0 M193.58 264.59h0 M195.19 255.44h0 M192.85 251.75h0 M198.44 255.78h0 M189.72 252.08h0 M193.11 252.68h0 M197.5 248.96h0 M195.37 255.75h0 M189.36 255.25h0 M193.26 257.61h0 M191.98 256.58h0 M187.6 249.36h0 M196.43 260.42h0 M193.55 251.88h0 M197.5 244.12h0 M190.72 258.5h0 M195.95 249.63h0 M194.15 250.34h0 M193.8 259.69h0 M196.26 244.18h0 M196.38 245.74h0 M197.7 257.07h0 M201.71 251.82h0 M193.62 260.45h0 M191.3 251.33h0 M192.26 254.62h0 M189.7 257.52h0 M195.56 255.37h0 M199.72 253.3h0 M198.3 252.16h0 M196.32 244.94h0 M194.31 254.09h0 M191.82 251.82h0 M192.35 251.26h0 M191.62 252.27h0 M189.79 254.29h0 M196.42 253.7h0 M191.83 262.06h0 M197.12 259.79h0 M197.76 253.3h0 M193.13 260.79h0 M191.61 254.38h0 M194.96 256.94h0 M192.61 260.11h0 M192.96 258.77h0 M197.45 258.43h0 M196.24 248.97h0 M188.88 251.78h0 M195.31 262.8h0 M189.2 256.59h0 M190.53 251.19h0 M192.6 258.6h0 M194.37 261.13h0 M190.05 259.62h0 M196.95 255.36h0 M195.32 252.07h0 M189.68 252.89h0 M191.85 263.58h0 M194.33 256.62h0 M196.28 250.95h0 M196.9 256.96h0 M188.14 258.13h0 M195.59 257.35h0 M199.31 252.85h0 M195.44 258.89h0 M190.36 261.24h0 M188.38 248.24h0 M195.48 249.34h0 M193.18 246.45h0 M193.85 249.11h0 M194.83 247.03h0 M195.22 253.61h0 M193.83 254.65h0 M194.07 248.13h0 M190.23 252.64h0 M195.14 244.68h0 M190.85 251.83h0 M189.79 256.7h0 M193.1 250.73h0 M190.06 259.2h0 M191.23 258.04h0 M195.22 245.15h0 M189.7 255.02h0 M194.83 259.05h0 M196.49 260.38h0 M192.25 253.91h0 M196.39 252.79h0 M197.4 246.74h0 M195.95 254.1h0 M194.72 255.11h0 M189.72 252.58h0 M199.04 250.7h0 M189.28 254.31h0 M192.18 250.26h0 M190.57 260.45h0 M188.41 265.17h0 M191.64 249.32h0 M196.43 257.93h0 M189.85 258.89h0 M197.65 253.67h0 M188.91 257.67h0 M196.9 254.88h0 M195.11 259h0 M200.27 253.69h0 M191.86 254.8h0 M197.94 250.1h0 M196.47 251.49h0 M195.25 258.58h0 M189.34 254.55h0 M194.47 258.05h0 M190.25 249.84h0 M192.91 253.84h0 M188.22 259.84h0 M191.68 262.47h0 M196.67 255.11h0 M196.22 249.22h0 M192.43 252h0 M189.03 255.09h0 M193.08 262.46h0 M190.29 252.59h0 M195.12 257.1h0 M193.7 252.53h0 M195.38 256.87h0 M188.65 248.86h0 M194.13 255.31h0 M194.01 250.45h0 M192.88 250.25h0 M194.97 258.58h0 M199.92 261.58h0 M190.7 252.62h0 M190.22 256.59h0 M200.73 258.68h0 M188.95 257.68h0 M193.6 256.56h0 M200.01 250.7h0 M190.55 265.22h0 M194.83 250.95h0 M193.76 260.16h0 M193.1 251.39h0 M190.93 264.89h0 M193.69 258.21h0 M192.14 257.6h0" stroke="#c85a1c" stroke-width="1.0" stroke-linecap="round" opacity="0.9"/>
<path d="M211.49 252.54h0 M203.85 252.29h0 M200.81 252.15h0 M204.79 254.87h0 M214.62 262h0 M203.93 257.42h0 M208.37 258.45h0 M206.73 255.23h0 M203.79 248.4h0 M211.83 261.94h0 M210.57 256.33h0 M208.2 250.57h0 M195.9 257.81h0 M207.8 249.9h0 M200.81 261.81h0 M195.77 264.95h0 M202.29 253.36h0 M203.56 254.51h0 M205.34 248.64h0 M213.05 248.4h0 M203.55 257.1h0 M203.37 250.68h0 M208.74 251.11h0 M199.12 252.84h0 M205.28 264.58h0 M200.02 259.8h0 M201.88 251.19h0 M204.64 255.26h0 M211.78 264.87h0 M202.78 262.14h0 M212.57 258.78h0 M202.04 259.35h0 M205.96 255.8h0 M204.99 257.82h0 M213.29 260.85h0 M205.37 259.97h0 M215.31 247.42h0 M215.43 244.82h0 M209.86 257.36h0 M215.5 255.31h0 M203.72 248.32h0 M199.09 258.48h0 M205.18 248.84h0 M209.79 248.53h0 M203.98 250.52h0 M216.53 263.01h0 M205.65 243.29h0 M208.26 253.97h0 M208.69 257.18h0 M204.68 259.51h0 M211.62 254.87h0 M204.16 250.38h0 M210.76 246.35h0 M205.64 248.63h0 M198.24 257.42h0 M206.45 253.73h0 M211.85 243.79h0 M206.2 255.38h0 M211.59 246.45h0 M210.9 254.93h0 M214.73 260.9h0 M209.9 267.47h0 M206.59 250.74h0 M204.56 247.39h0 M206.43 241.29h0 M206.09 256.27h0 M212.55 251.24h0 M214.93 249.27h0 M205.79 241.3h0 M202.03 248.36h0 M215.35 256.87h0 M200.13 256.89h0 M209.42 252.02h0 M206.73 251.56h0 M203.42 242.25h0 M206.07 261.65h0 M214.99 251.73h0 M202.22 252.16h0 M211.86 255.73h0 M203.18 255.8h0 M205.39 256.77h0 M204.21 244.17h0 M206.94 258.32h0 M200.12 252.82h0 M211.74 251.13h0 M202.79 266.37h0 M211.45 260.01h0 M201.07 263.84h0 M196.92 250.22h0 M210.92 261.92h0 M201.17 249.3h0 M207.75 241.3h0 M210.33 257.04h0 M203.99 256.9h0 M211.13 255.45h0 M209.64 263.06h0 M203.82 254.52h0 M203.56 260.02h0 M204.23 256.49h0 M207.4 253.92h0 M216.58 252.96h0 M214.84 258.7h0 M214.27 252.46h0 M211.99 258.26h0 M203.03 255.19h0 M205.85 253.28h0 M214.15 248.97h0 M196.85 242.56h0 M203.98 249.45h0 M206.68 257.05h0 M216.8 255.44h0 M209.28 248.89h0 M209.96 262.02h0 M214.36 241.25h0 M211.75 263.43h0 M211.38 244.13h0 M204.82 257.18h0 M209 248.42h0 M201.45 259.55h0 M198.89 262.48h0 M206.72 255.38h0 M198.89 249.77h0 M210.58 244.3h0 M199.54 253.77h0 M209.38 258.08h0 M204.46 252.2h0 M205.24 249.91h0 M191.73 259.51h0 M208.05 254.49h0 M202.97 255.07h0 M206.52 253.02h0 M212.97 242.74h0 M208.05 246.84h0 M204.77 262.86h0 M200.35 252.88h0 M203.19 259.43h0 M200.95 242.99h0 M209.56 251.29h0 M204.76 260.25h0 M201.48 251.17h0 M207.45 256.08h0 M203.62 259.96h0 M214.71 251.35h0 M207.39 251.38h0 M202.93 245.53h0 M204.33 261.59h0 M213.17 251.33h0 M203.56 249.12h0 M199.69 264.76h0 M210.42 254.23h0 M203.77 247.12h0 M214.19 258.37h0 M201.11 259.67h0 M200.22 257.51h0 M201.06 250.91h0 M209.45 256.2h0 M212.43 248.28h0 M215.69 261.89h0 M206.54 256.4h0 M202.12 252.55h0 M198.99 254.06h0 M207.75 261.88h0 M212.06 258.58h0 M204.52 252.1h0 M204.64 254.89h0 M195.48 258.31h0 M197.57 250.28h0 M206.73 250.3h0 M216.18 252.89h0 M215.65 260.82h0 M203.74 256h0 M214.08 251.42h0 M207.11 250.02h0 M206.94 251.29h0 M207.08 259.75h0 M214.62 254.33h0 M207.76 258.84h0 M204.93 246.89h0 M213 247.67h0 M211.96 247.48h0 M217.14 246.99h0 M211.49 262.86h0 M201.06 262.77h0 M201.86 242.49h0 M210.76 257.88h0 M206.28 251.59h0 M204.42 251.69h0 M196.29 249.96h0 M216.97 263.15h0 M204.52 249.06h0 M208.88 260.13h0 M210.77 246.2h0 M207.53 254.38h0 M214.89 260.97h0 M209.62 261.09h0 M204.32 263.1h0 M204.15 255.97h0 M211.89 247.8h0 M202.56 242.53h0 M207.55 253.16h0 M204.72 256.61h0 M194.41 253.35h0 M207.1 251.84h0 M211.17 264.43h0 M204.03 247.64h0 M203.12 254.08h0 M209.98 248.13h0 M212.36 247.11h0 M211.36 256.17h0 M209.27 266.96h0 M205.08 252.47h0 M209.34 258.89h0 M198.89 255.22h0 M202.33 257.43h0 M214.49 253.82h0 M205.99 254.64h0 M189.58 258.31h0 M209.83 254.53h0 M204.32 248.94h0 M205.57 261.07h0 M206.01 261.91h0 M191.79 250.63h0 M208.18 253.42h0 M197.04 249.35h0 M213.8 245.44h0 M200.89 246.65h0 M203.42 257.51h0 M210.02 240.83h0 M215.01 249.8h0 M203.21 263.91h0 M206.13 245.76h0 M202.92 248.97h0 M200.78 251.42h0 M211.65 255.69h0 M200.9 254.22h0 M206.78 258.25h0 M204.71 256.35h0 M200.36 255.55h0 M201.98 251.19h0 M207.68 255.6h0 M204.96 258.79h0 M205.49 245.36h0 M211.66 251.23h0 M213.59 249.41h0 M209.9 255.47h0 M191.07 244.18h0 M200.15 262.28h0 M195.72 259.2h0 M212.89 256.59h0 M210.48 250.41h0 M206.54 254.9h0 M209.02 257.91h0 M205.41 249.12h0" stroke="#e07a3c" stroke-width="0.9" stroke-linecap="round" opacity="0.75"/>
<path d="M205.6 243.9 C207.35 244.07 210.1 244.73 211.6 246 C213.1 247.27 214.1 249.33 214.6 251.5 C215.1 253.67 215.18 256.83 214.6 259 C214.02 261.17 212.77 263.35 211.1 264.5 C209.43 265.65 206.6 266.07 204.6 265.9 C202.6 265.73 200.38 265.07 199.1 263.5 C197.82 261.93 197.1 258.92 196.9 256.5 C196.7 254.08 197.2 250.92 197.9 249 C198.6 247.08 199.82 245.85 201.1 245 C202.38 244.15 203.85 243.73 205.6 243.9Z" fill="#fbe7d8" stroke="#c85a1c" stroke-width="1.0" opacity="1"/>
<path d="M205.82 246.45 C207.19 246.58 209.33 247.1 210.5 248.09 C211.67 249.08 212.45 250.69 212.84 252.38 C213.23 254.07 213.3 256.54 212.84 258.23 C212.38 259.92 211.41 261.62 210.11 262.52 C208.81 263.42 206.6 263.74 205.04 263.61 C203.48 263.48 201.75 262.96 200.75 261.74 C199.75 260.52 199.19 258.16 199.03 256.28 C198.88 254.39 199.27 251.93 199.81 250.43 C200.36 248.94 201.31 247.97 202.31 247.31 C203.31 246.65 204.45 246.32 205.82 246.45Z" fill="#fff6ef" stroke="#e07a3c" stroke-width="0.6" opacity="1"/>
<path d="M203.1 248.5 C203.85 248.3 206.18 246.97 207.6 247.3 C209.02 247.63 210.85 248.97 211.6 250.5 C212.35 252.03 212.43 254.58 212.1 256.5 C211.77 258.42 210.85 260.87 209.6 262 C208.35 263.13 205.43 263.08 204.6 263.3" fill="none" stroke="#d87a48" stroke-width="0.55" opacity="1"/>
<path d="M204.6 251.5 C205.18 251.42 207.18 250.5 208.1 251 C209.02 251.5 209.93 253.08 210.1 254.5 C210.27 255.92 209.85 258.42 209.1 259.5 C208.35 260.58 206.18 260.75 205.6 261" fill="none" stroke="#d87a48" stroke-width="0.5" opacity="1"/>
<path d="M206.1 254.5 C206.35 254.58 207.35 254.42 207.6 255 C207.85 255.58 207.85 257.37 207.6 258 C207.35 258.63 206.35 258.67 206.1 258.8" fill="none" stroke="#e09060" stroke-width="0.45" opacity="1"/>
<path d="M203.36 236.08h0 M197.03 229.69h0 M204.23 232.38h0 M205.04 224.28h0 M204.64 233.54h0 M211.07 226.9h0 M204.84 236.32h0 M209.42 239.09h0 M212.68 230.47h0 M210.27 233.21h0 M201.97 240.4h0 M202.97 231.22h0 M204.25 231.22h0 M212.41 235.96h0 M214.68 236.08h0 M203.05 238.53h0 M202.82 232.72h0 M205.63 234.65h0 M213.5 232.17h0 M208.63 234.39h0" stroke="#c8b8c0" stroke-width="0.7" stroke-linecap="round" opacity="0.6"/>
<line x1="161" y1="258.33" x2="162.6" y2="258.33" stroke="#1a1a1a" stroke-width="0.8"/>
<line x1="161" y1="254.9" x2="162.6" y2="254.9" stroke="#1a1a1a" stroke-width="0.8"/>
<line x1="161" y1="252.46" x2="162.6" y2="252.46" stroke="#1a1a1a" stroke-width="0.8"/>
<line x1="161" y1="250.57" x2="162.6" y2="250.57" stroke="#1a1a1a" stroke-width="0.8"/>
<line x1="161" y1="249.03" x2="162.6" y2="249.03" stroke="#1a1a1a" stroke-width="0.8"/>
<line x1="161" y1="247.72" x2="162.6" y2="247.72" stroke="#1a1a1a" stroke-width="0.8"/>
<line x1="161" y1="246.59" x2="162.6" y2="246.59" stroke="#1a1a1a" stroke-width="0.8"/>
<line x1="161" y1="245.59" x2="162.6" y2="245.59" stroke="#1a1a1a" stroke-width="0.8"/>
<line x1="161" y1="239.52" x2="162.6" y2="239.52" stroke="#1a1a1a" stroke-width="0.8"/>
<line x1="161" y1="236.49" x2="162.6" y2="236.49" stroke="#1a1a1a" stroke-width="0.8"/>
<line x1="161" y1="234.34" x2="162.6" y2="234.34" stroke="#1a1a1a" stroke-width="0.8"/>
<line x1="161" y1="232.68" x2="162.6" y2="232.68" stroke="#1a1a1a" stroke-width="0.8"/>
<line x1="161" y1="231.32" x2="162.6" y2="231.32" stroke="#1a1a1a" stroke-width="0.8"/>
<line x1="161" y1="230.16" x2="162.6" y2="230.16" stroke="#1a1a1a" stroke-width="0.8"/>
<line x1="161" y1="229.17" x2="162.6" y2="229.17" stroke="#1a1a1a" stroke-width="0.8"/>
<line x1="161" y1="228.29" x2="162.6" y2="228.29" stroke="#1a1a1a" stroke-width="0.8"/>
<line x1="161" y1="267.33" x2="162.6" y2="267.33" stroke="#1a1a1a" stroke-width="0.8"/>
<line x1="161" y1="270.47" x2="162.6" y2="270.47" stroke="#1a1a1a" stroke-width="0.8"/>
<line x1="161" y1="273.6" x2="162.6" y2="273.6" stroke="#1a1a1a" stroke-width="0.8"/>
<line x1="161" y1="276.73" x2="162.6" y2="276.73" stroke="#1a1a1a" stroke-width="0.8"/>
<line x1="161" y1="279.87" x2="162.6" y2="279.87" stroke="#1a1a1a" stroke-width="0.8"/>
<line x1="161" y1="287.83" x2="162.6" y2="287.83" stroke="#1a1a1a" stroke-width="0.8"/>
<line x1="161" y1="292.67" x2="162.6" y2="292.67" stroke="#1a1a1a" stroke-width="0.8"/>
<line x1="159.4" y1="227.5" x2="162.6" y2="227.5" stroke="#1a1a1a" stroke-width="1.1"/>
<line x1="159.4" y1="244.7" x2="162.6" y2="244.7" stroke="#1a1a1a" stroke-width="1.1"/>
<line x1="159.4" y1="264.2" x2="162.6" y2="264.2" stroke="#1a1a1a" stroke-width="1.1"/>
<line x1="159.4" y1="283" x2="162.6" y2="283" stroke="#1a1a1a" stroke-width="1.1"/>
<line x1="185.07" y1="297.5" x2="185.07" y2="299.1" stroke="#1a1a1a" stroke-width="0.8"/>
<line x1="188.86" y1="297.5" x2="188.86" y2="299.1" stroke="#1a1a1a" stroke-width="0.8"/>
<line x1="191.54" y1="297.5" x2="191.54" y2="299.1" stroke="#1a1a1a" stroke-width="0.8"/>
<line x1="193.63" y1="297.5" x2="193.63" y2="299.1" stroke="#1a1a1a" stroke-width="0.8"/>
<line x1="195.33" y1="297.5" x2="195.33" y2="299.1" stroke="#1a1a1a" stroke-width="0.8"/>
<line x1="196.77" y1="297.5" x2="196.77" y2="299.1" stroke="#1a1a1a" stroke-width="0.8"/>
<line x1="198.02" y1="297.5" x2="198.02" y2="299.1" stroke="#1a1a1a" stroke-width="0.8"/>
<line x1="199.12" y1="297.5" x2="199.12" y2="299.1" stroke="#1a1a1a" stroke-width="0.8"/>
<line x1="205.97" y1="297.5" x2="205.97" y2="299.1" stroke="#1a1a1a" stroke-width="0.8"/>
<line x1="209.4" y1="297.5" x2="209.4" y2="299.1" stroke="#1a1a1a" stroke-width="0.8"/>
<line x1="211.84" y1="297.5" x2="211.84" y2="299.1" stroke="#1a1a1a" stroke-width="0.8"/>
<line x1="213.73" y1="297.5" x2="213.73" y2="299.1" stroke="#1a1a1a" stroke-width="0.8"/>
<line x1="215.27" y1="297.5" x2="215.27" y2="299.1" stroke="#1a1a1a" stroke-width="0.8"/>
<line x1="216.58" y1="297.5" x2="216.58" y2="299.1" stroke="#1a1a1a" stroke-width="0.8"/>
<line x1="217.71" y1="297.5" x2="217.71" y2="299.1" stroke="#1a1a1a" stroke-width="0.8"/>
<line x1="218.71" y1="297.5" x2="218.71" y2="299.1" stroke="#1a1a1a" stroke-width="0.8"/>
<line x1="225.26" y1="297.5" x2="225.26" y2="299.1" stroke="#1a1a1a" stroke-width="0.8"/>
<line x1="228.57" y1="297.5" x2="228.57" y2="299.1" stroke="#1a1a1a" stroke-width="0.8"/>
<line x1="230.92" y1="297.5" x2="230.92" y2="299.1" stroke="#1a1a1a" stroke-width="0.8"/>
<line x1="232.74" y1="297.5" x2="232.74" y2="299.1" stroke="#1a1a1a" stroke-width="0.8"/>
<line x1="234.23" y1="297.5" x2="234.23" y2="299.1" stroke="#1a1a1a" stroke-width="0.8"/>
<line x1="235.49" y1="297.5" x2="235.49" y2="299.1" stroke="#1a1a1a" stroke-width="0.8"/>
<line x1="236.58" y1="297.5" x2="236.58" y2="299.1" stroke="#1a1a1a" stroke-width="0.8"/>
<line x1="237.54" y1="297.5" x2="237.54" y2="299.1" stroke="#1a1a1a" stroke-width="0.8"/>
<line x1="173.95" y1="297.5" x2="173.95" y2="299.1" stroke="#1a1a1a" stroke-width="0.8"/>
<line x1="175.5" y1="297.5" x2="175.5" y2="299.1" stroke="#1a1a1a" stroke-width="0.8"/>
<line x1="177.05" y1="297.5" x2="177.05" y2="299.1" stroke="#1a1a1a" stroke-width="0.8"/>
<line x1="165.05" y1="297.5" x2="165.05" y2="299.1" stroke="#1a1a1a" stroke-width="0.8"/>
<line x1="167.5" y1="297.5" x2="167.5" y2="299.1" stroke="#1a1a1a" stroke-width="0.8"/>
<line x1="169.95" y1="297.5" x2="169.95" y2="299.1" stroke="#1a1a1a" stroke-width="0.8"/>
<line x1="162.6" y1="297.5" x2="162.6" y2="300.7" stroke="#1a1a1a" stroke-width="1.1"/>
<line x1="172.4" y1="297.5" x2="172.4" y2="300.7" stroke="#1a1a1a" stroke-width="1.1"/>
<line x1="178.6" y1="297.5" x2="178.6" y2="300.7" stroke="#1a1a1a" stroke-width="1.1"/>
<line x1="200.1" y1="297.5" x2="200.1" y2="300.7" stroke="#1a1a1a" stroke-width="1.1"/>
<line x1="219.6" y1="297.5" x2="219.6" y2="300.7" stroke="#1a1a1a" stroke-width="1.1"/>
<line x1="238.4" y1="297.5" x2="238.4" y2="300.7" stroke="#1a1a1a" stroke-width="1.1"/>
<rect x="187.2" y="226.7" width="48.3" height="64" fill="none" stroke="#5f5f5f" stroke-width="1"/>
<rect x="162.6" y="220.5" width="83.7" height="77" fill="none" stroke="#1a1a1a" stroke-width="1.4"/>
<text x="155.4" y="229.7" font-size="6" text-anchor="end" fill="#222" stroke="#222" stroke-width="0.26">10<tspan dy="-2.4" font-size="3.7">5</tspan></text>
<text x="155.4" y="246.9" font-size="6" text-anchor="end" fill="#222" stroke="#222" stroke-width="0.26">10<tspan dy="-2.4" font-size="3.7">4</tspan></text>
<text x="155.4" y="266.4" font-size="6" text-anchor="end" fill="#222" stroke="#222" stroke-width="0.26">10<tspan dy="-2.4" font-size="3.7">3</tspan></text>
<text x="155.8" y="285.2" font-size="6" text-anchor="end" fill="#222" stroke="#222" stroke-width="0.26">0</text>
<text x="156.4" y="299.7" font-size="6" text-anchor="end" fill="#222" stroke="#222" stroke-width="0.26">-630</text>
<text x="160.4" y="309.8" font-size="6" text-anchor="middle" fill="#222" stroke="#222" stroke-width="0.26">-173</text>
<text x="172.2" y="309.8" font-size="6" text-anchor="middle" fill="#222" stroke="#222" stroke-width="0.26">0</text>
<text x="179.2" y="309.8" font-size="6" text-anchor="middle" fill="#222" stroke="#222" stroke-width="0.26">10<tspan dy="-2.4" font-size="3.7">2</tspan></text>
<text x="200" y="309.8" font-size="6" text-anchor="middle" fill="#222" stroke="#222" stroke-width="0.26">10<tspan dy="-2.4" font-size="3.7">3</tspan></text>
<text x="219.9" y="309.8" font-size="6" text-anchor="middle" fill="#222" stroke="#222" stroke-width="0.26">10<tspan dy="-2.4" font-size="3.7">4</tspan></text>
<text x="238.9" y="309.8" font-size="6" text-anchor="middle" fill="#222" stroke="#222" stroke-width="0.26">10<tspan dy="-2.4" font-size="3.7">5</tspan></text>
<text x="204.2" y="322.2" font-size="10.5" text-anchor="middle" textLength="27" lengthAdjust="spacingAndGlyphs" fill="#222" stroke="#222" stroke-width="0.17">NKG2C</text>
<text transform="translate(138.2,259.1) rotate(-90)" font-size="10.3" text-anchor="middle" textLength="21" lengthAdjust="spacingAndGlyphs" fill="#222" stroke="#222" stroke-width="0.17">CD56</text>
<text x="203.7" y="215.5" font-size="10" text-anchor="middle" fill="#222" stroke="#222" stroke-width="0.08">301</text>
<text x="192.2" y="282.2" font-size="6.7" textLength="36.6" lengthAdjust="spacingAndGlyphs" fill="#222" stroke="#222" stroke-width="0.1">NKG2C+ NK</text>
<path d="M65 374.95h0 M68.8 384.33h0 M70.77 384.8h0 M69.78 379h0 M71.16 375.53h0 M64.68 379.72h0 M64.37 378.58h0 M66.86 378.33h0 M69.44 376.79h0 M68.05 371.09h0 M70.13 376.28h0 M71.08 364.09h0 M66.66 383.32h0 M69.95 382.45h0 M64.12 383.24h0 M70.15 375.7h0 M72.33 381.49h0 M69.67 378.98h0 M71.61 382.41h0 M73.77 384.63h0 M67.34 380.4h0 M72.97 379.51h0 M71 385.08h0 M68.94 367.18h0 M70.08 383.14h0 M70.1 377.03h0 M74.04 380.95h0 M67.31 377.29h0 M70.92 374.94h0 M65.92 394.37h0 M74.41 388.42h0 M74.62 385.54h0 M74.15 384.88h0 M74.62 378.7h0 M70.07 386.69h0 M69.29 388.71h0 M69.9 386.15h0 M69.91 372.49h0 M70.63 390.05h0 M73.79 392.6h0 M71.64 378.05h0 M69.67 369.71h0 M68.91 387.51h0 M72.64 390.17h0 M66.19 377.69h0 M71.57 394.85h0 M65.37 390.5h0 M71.18 378.68h0 M77.69 365.89h0 M69.35 383.18h0 M77.46 393.15h0 M77.96 382.65h0 M73.22 390.41h0 M71.49 384.07h0 M68.92 379.22h0 M65.06 394.11h0 M67.95 368.66h0 M70.58 381.59h0 M70.25 393.27h0 M69.21 380.12h0 M66.84 381.66h0 M67.98 383.09h0 M81.14 384.29h0 M66.43 394h0 M72.79 386.96h0 M72.24 386.98h0 M72.09 390.72h0 M73.32 390.33h0 M67.74 381.79h0 M66.9 387.86h0 M72.67 378.85h0 M74.17 374.74h0 M69.26 385.82h0 M69.47 384.25h0 M73.96 383.88h0 M65.54 386.32h0 M69.24 382.52h0 M67.5 373.05h0 M64.99 379.56h0 M65.64 364.61h0 M73.85 374.45h0 M66.92 385.17h0 M66.76 385.98h0 M67.82 383.74h0 M69.99 381.79h0 M69.45 390.73h0 M67.58 385.17h0 M70.2 384.86h0 M73.27 372.31h0 M70.62 380.67h0 M68.44 376.39h0 M66.69 375.28h0 M75.89 381.86h0 M72.35 375.62h0 M70.12 390.92h0 M69.44 375.46h0 M68.71 375.48h0 M64.44 380.33h0 M68.12 376.66h0 M66.32 375.91h0 M70.47 390.62h0 M68.82 395.96h0 M63.61 383.54h0 M65.32 380.78h0 M69.98 385.34h0 M73.78 378.28h0 M65 380.61h0 M70.69 377.38h0 M72.91 392.47h0 M64.33 384.1h0 M73.36 369.63h0 M70.36 380.37h0 M64.33 390.13h0 M70.4 378.77h0 M71.24 385.87h0 M72.45 385.47h0 M71.11 374.35h0 M68.04 382.62h0 M68.19 375.12h0 M69.72 378.1h0 M68.06 376.17h0 M66.82 381.18h0 M67.22 386.1h0 M69.07 382.64h0 M71.1 389.85h0 M71.83 383.25h0 M69 376.7h0 M68.33 386.12h0 M70.44 379.34h0 M64.67 372.09h0 M70.79 388.31h0 M70.98 373.1h0 M68.81 383.21h0 M66.2 384h0 M68.86 376.51h0 M65 386.94h0 M70.92 376.18h0 M65.84 387.44h0 M71.81 379.87h0 M75.5 379.97h0 M65.69 388.72h0 M68.9 383.99h0 M69.74 375.46h0 M65.21 380.57h0 M74.8 375.45h0 M74.63 383.19h0 M65.48 383.49h0 M71.7 376.11h0 M65.49 384.59h0 M66.61 372.43h0 M68.71 382.88h0 M67.54 374.33h0 M70.39 370.74h0 M71.58 384.9h0 M75.8 387.39h0 M70.91 383.47h0 M69.7 373.42h0 M75 385.13h0 M68.54 374.56h0 M75.08 385.16h0 M65.22 386.05h0 M76.6 381.66h0 M71.08 379.17h0 M67.28 388.58h0 M80.97 382.54h0 M69.14 386.81h0 M68.47 386.4h0 M72.66 375.38h0 M65.64 381.33h0 M72.67 383.55h0 M74.18 373.11h0 M71.42 377.87h0 M69.97 383.83h0 M66.02 380.36h0 M65.31 383.48h0 M66.46 378.68h0 M70.41 377.68h0 M73.84 377.78h0 M72.73 383.58h0 M65.79 380.42h0 M66.52 379.52h0 M68.6 393.26h0 M68.06 391.69h0 M71.25 373.56h0 M73.39 384.26h0 M68.83 380.22h0 M70.55 379.89h0 M67.63 379.47h0 M73.91 377.89h0 M71 374.55h0 M66.98 373.15h0 M68.87 386.1h0 M70.72 378.7h0 M71.85 379.62h0 M70.97 383.52h0 M71.59 366.21h0 M64.81 386.67h0 M69.21 395.92h0 M68.74 378.33h0 M75.09 385.29h0 M76.58 385.01h0 M68.85 386.35h0 M66.7 378.99h0 M67.56 380.4h0 M72.46 378.77h0 M70.78 378.67h0 M72.85 364.48h0 M68.84 382.86h0 M65.64 388.17h0 M70.4 389.85h0 M73.13 385.83h0 M69.05 374.97h0 M68.79 378.91h0" stroke="#efb48e" stroke-width="0.9" stroke-linecap="round" opacity="0.75"/>
<path d="M68.23 387.54h0 M75.28 384.48h0 M70.55 387.53h0 M66.99 391.31h0 M67.61 385.52h0 M68.64 388.27h0 M64.95 386.79h0 M68.81 389.61h0 M66.87 394.67h0 M68.65 387.14h0 M68.19 388.47h0 M64.11 394.38h0 M67.14 388.05h0 M66.18 391.45h0 M67.67 393.41h0 M69.58 393.25h0 M67.31 389.81h0 M66.51 388.34h0 M65.21 387.04h0 M70.65 389.51h0 M70.67 391.12h0 M69.91 391.51h0 M66.08 390.97h0 M66.79 387.37h0 M70.6 394.64h0 M65.15 393.49h0 M69.68 386.51h0 M68.28 389.8h0 M68.54 387.84h0 M64.38 388.88h0 M69.76 390.92h0 M69.26 391.77h0 M65.12 388.69h0 M68.45 391.5h0 M67.99 390.2h0 M67.93 394.46h0 M73.8 389.44h0 M64.01 386.97h0 M68.16 393.42h0 M68.76 390.6h0 M70.15 389.34h0 M65.45 388.54h0 M68.44 388.05h0 M65.93 387.83h0 M63.84 386.04h0 M67.37 387.83h0 M67.69 392.58h0 M68.35 388.71h0 M64.66 385.89h0 M68.54 386.45h0 M68.67 385.91h0 M67.94 388.6h0 M70.09 387.74h0 M66.67 389.46h0 M67.74 393.35h0 M66.96 387.35h0 M66.8 390.08h0 M68.19 390.67h0 M64.14 395.48h0 M72.2 388.72h0 M64.58 389.22h0 M68.64 382.79h0 M67.63 384.82h0 M68.75 392.52h0 M70.19 384.74h0 M71.06 391.24h0 M66.7 390.15h0 M71.4 387.91h0 M67.56 387.29h0 M70.49 383h0 M71.15 386.19h0 M69.92 384.42h0 M65.26 387.19h0 M69.67 384.43h0 M69.11 387.09h0 M70.71 387.96h0 M68.82 388.34h0 M72.09 387.83h0 M67.54 394.15h0 M67.79 390.65h0 M65.76 389.34h0 M65.98 384.75h0 M64.06 391.88h0 M68.67 384.72h0 M72.14 386.93h0 M66.68 389.46h0 M64.76 384.44h0 M65.73 391.98h0 M69.98 384.54h0 M70.61 388.89h0 M68.85 388.94h0 M68.63 386.1h0 M65.33 386.91h0 M66.68 390.47h0 M64.56 393.1h0 M66.02 387.21h0 M69.36 389.97h0 M66.75 385.92h0 M65.1 384.49h0 M70.46 391.72h0 M72.27 390.14h0 M68.43 390.84h0 M69.98 388.1h0 M68.48 394.6h0" stroke="#e89468" stroke-width="0.9" stroke-linecap="round" opacity="0.7"/>
<path d="M64.56 364.63h0 M70.18 383.33h0 M86.75 373.87h0 M82.77 376.38h0 M79.91 372.12h0 M77.39 376.76h0 M86.31 396.14h0 M63.62 381.41h0 M77.56 385.19h0 M85.78 383.56h0 M83.83 368.57h0 M64.47 391.27h0 M86.91 368.55h0 M87.54 382.58h0 M58.7 384.59h0 M69.99 386.91h0 M72.35 370.36h0 M65.7 374.92h0 M85.44 370.98h0 M63.27 395.39h0 M91.82 382.78h0 M73.46 366.3h0 M64.97 381.64h0 M87.62 367.61h0 M77.6 374.39h0 M75.62 381.15h0 M93.73 371.28h0 M84.15 386.24h0 M75.41 375.51h0 M67.26 386.16h0 M73.51 371.13h0 M78.12 369.36h0 M69.56 374.22h0 M89.06 375.02h0 M81.66 364.08h0 M62.58 392.57h0 M74.53 363.45h0 M76.78 382.07h0 M64.28 369.15h0 M79.6 368.8h0 M83.75 385.15h0 M81.02 373.07h0 M77.24 371.31h0 M76.59 379.56h0 M75.28 385.25h0 M97.63 372.05h0 M80.25 383.95h0 M82.58 374.73h0 M73.9 385.52h0 M82.42 381.2h0" stroke="#c4b4bc" stroke-width="0.7" stroke-linecap="round" opacity="0.6"/>
<path d="M48.94 386.29h0 M58.2 379.19h0 M57.34 399.68h0 M42.72 386.07h0 M46.81 368.94h0 M52.24 385.55h0 M53.9 370.67h0 M45.26 375.96h0 M53.68 373.58h0 M44.88 396.07h0 M48.73 379.44h0 M50.42 375.71h0 M53.83 378.21h0 M57.19 370.49h0 M44.97 397.78h0 M53.16 387.49h0 M60.45 385.62h0 M53.81 367.25h0 M44.3 389.32h0 M57.53 385.76h0 M43.96 362.22h0 M47.46 370.5h0 M54.53 371.89h0 M62.8 375.37h0 M50.33 388.33h0 M55.51 372.96h0 M58.38 397.57h0 M46.46 378.63h0 M47.33 363.85h0 M57.25 386.89h0 M59.27 384.54h0 M41.87 380.56h0 M49.71 370.52h0 M47.16 387.49h0 M51.87 397.98h0 M56.34 364.12h0 M58.81 391.72h0 M53.78 370.2h0 M63.91 369.31h0 M53.11 364.12h0 M46.28 365.92h0 M59.95 391.12h0 M51.23 368.93h0 M53.25 384.12h0 M44.69 370.65h0 M53 386.97h0 M54.04 384.74h0 M46.3 358.97h0 M55.42 372.75h0 M52.87 377.49h0 M56.41 374.02h0 M62.05 381.07h0 M56.7 386.33h0 M59.67 384.35h0 M43.35 375.28h0 M64.5 384.95h0 M56.89 384.91h0 M49.84 374.84h0 M49.81 390.99h0 M55.74 396.46h0 M56.52 397.44h0 M56.29 370.38h0 M63.82 383.77h0 M60.6 382.69h0 M51.68 382.29h0 M47.01 370.26h0 M48.38 376.17h0 M45.62 379.89h0 M55.39 398.7h0 M64.43 380.36h0 M58.81 378.86h0 M55.9 380.5h0 M50.42 381.47h0 M44.89 384.69h0 M51.89 371.23h0 M51.48 385.7h0 M49.59 385h0 M56.96 394.6h0 M47.19 379.82h0 M56.62 394.09h0 M55.15 387.48h0 M44.93 375.63h0 M63.41 378.28h0 M66.38 374.35h0 M51.96 366.66h0 M57.36 383.15h0 M65.54 382.27h0 M52.12 368.3h0 M53.11 389.2h0 M57.98 391.7h0" stroke="#bcdc98" stroke-width="0.8" stroke-linecap="round" opacity="0.6"/>
<path d="M52.3 364.2 C53.77 363.75 55.3 363.67 56.6 365.1 C57.9 366.53 59.05 369.85 60.1 372.8 C61.15 375.75 62.28 379.97 62.9 382.8 C63.52 385.63 64.18 387.55 63.8 389.8 C63.42 392.05 62.38 395.03 60.6 396.3 C58.82 397.57 55.6 397.4 53.1 397.4 C50.6 397.4 47.13 397.4 45.6 396.3 C44.07 395.2 43.97 393.38 43.9 390.8 C43.83 388.22 44.55 384.63 45.2 380.8 C45.85 376.97 46.62 370.57 47.8 367.8 C48.98 365.03 50.83 364.65 52.3 364.2Z" fill="#f3f9ea" stroke="#86bb4a" stroke-width="0.8" opacity="0.95"/>
<path d="M53 366.4 C54.62 366.4 56.7 375.23 58.1 379.35 C59.5 383.47 62.25 388.74 61.4 391.1 C60.55 393.46 55.65 393.5 53 393.5 C50.35 393.5 46.27 393.46 45.5 391.1 C44.73 388.74 47.1 383.47 48.35 379.35 C49.6 375.23 51.38 366.4 53 366.4Z" fill="none" stroke="#5f9a2c" stroke-width="0.6" opacity="0.85"/>
<path d="M53 371 C54.29 371 56.07 377.97 57.15 381.15 C58.23 384.33 60.19 388.21 59.5 390.1 C58.81 391.99 54.98 392.5 53 392.5 C51.02 392.5 48.2 391.99 47.6 390.1 C47 388.21 48.5 384.33 49.4 381.15 C50.3 377.97 51.71 371 53 371Z" fill="none" stroke="#86bb4a" stroke-width="0.6" opacity="0.85"/>
<path d="M53 376.2 C53.93 376.2 55.23 381.1 55.9 383.25 C56.57 385.4 57.48 387.73 57 389.1 C56.52 390.48 54.27 391.5 53 391.5 C51.73 391.5 49.85 390.48 49.4 389.1 C48.95 387.73 49.7 385.4 50.3 383.25 C50.9 381.1 52.07 376.2 53 376.2Z" fill="none" stroke="#5f9a2c" stroke-width="0.6" opacity="0.85"/>
<path d="M53 381.3 C53.66 381.3 54.63 384.27 55 385.45 C55.37 386.63 55.53 387.51 55.2 388.4 C54.87 389.29 53.72 390.8 53 390.8 C52.28 390.8 51.23 389.29 50.9 388.4 C50.57 387.51 50.7 386.63 51.05 385.45 C51.4 384.27 52.34 381.3 53 381.3Z" fill="none" stroke="#86bb4a" stroke-width="0.6" opacity="0.85"/>
<path d="M46.8 394.6 Q53.1 399.6 60.1 394.6" fill="none" stroke="#8cc63f" stroke-width="1.8"/>
<line x1="38" y1="388.63" x2="39.6" y2="388.63" stroke="#1a1a1a" stroke-width="0.8"/>
<line x1="38" y1="385.2" x2="39.6" y2="385.2" stroke="#1a1a1a" stroke-width="0.8"/>
<line x1="38" y1="382.76" x2="39.6" y2="382.76" stroke="#1a1a1a" stroke-width="0.8"/>
<line x1="38" y1="380.87" x2="39.6" y2="380.87" stroke="#1a1a1a" stroke-width="0.8"/>
<line x1="38" y1="379.33" x2="39.6" y2="379.33" stroke="#1a1a1a" stroke-width="0.8"/>
<line x1="38" y1="378.02" x2="39.6" y2="378.02" stroke="#1a1a1a" stroke-width="0.8"/>
<line x1="38" y1="376.89" x2="39.6" y2="376.89" stroke="#1a1a1a" stroke-width="0.8"/>
<line x1="38" y1="375.89" x2="39.6" y2="375.89" stroke="#1a1a1a" stroke-width="0.8"/>
<line x1="38" y1="369.82" x2="39.6" y2="369.82" stroke="#1a1a1a" stroke-width="0.8"/>
<line x1="38" y1="366.79" x2="39.6" y2="366.79" stroke="#1a1a1a" stroke-width="0.8"/>
<line x1="38" y1="364.64" x2="39.6" y2="364.64" stroke="#1a1a1a" stroke-width="0.8"/>
<line x1="38" y1="362.98" x2="39.6" y2="362.98" stroke="#1a1a1a" stroke-width="0.8"/>
<line x1="38" y1="361.62" x2="39.6" y2="361.62" stroke="#1a1a1a" stroke-width="0.8"/>
<line x1="38" y1="360.46" x2="39.6" y2="360.46" stroke="#1a1a1a" stroke-width="0.8"/>
<line x1="38" y1="359.47" x2="39.6" y2="359.47" stroke="#1a1a1a" stroke-width="0.8"/>
<line x1="38" y1="358.59" x2="39.6" y2="358.59" stroke="#1a1a1a" stroke-width="0.8"/>
<line x1="38" y1="397.63" x2="39.6" y2="397.63" stroke="#1a1a1a" stroke-width="0.8"/>
<line x1="38" y1="400.77" x2="39.6" y2="400.77" stroke="#1a1a1a" stroke-width="0.8"/>
<line x1="38" y1="403.9" x2="39.6" y2="403.9" stroke="#1a1a1a" stroke-width="0.8"/>
<line x1="38" y1="407.03" x2="39.6" y2="407.03" stroke="#1a1a1a" stroke-width="0.8"/>
<line x1="38" y1="410.17" x2="39.6" y2="410.17" stroke="#1a1a1a" stroke-width="0.8"/>
<line x1="38" y1="418.13" x2="39.6" y2="418.13" stroke="#1a1a1a" stroke-width="0.8"/>
<line x1="38" y1="422.97" x2="39.6" y2="422.97" stroke="#1a1a1a" stroke-width="0.8"/>
<line x1="36.4" y1="357.8" x2="39.6" y2="357.8" stroke="#1a1a1a" stroke-width="1.1"/>
<line x1="36.4" y1="375" x2="39.6" y2="375" stroke="#1a1a1a" stroke-width="1.1"/>
<line x1="36.4" y1="394.5" x2="39.6" y2="394.5" stroke="#1a1a1a" stroke-width="1.1"/>
<line x1="36.4" y1="413.3" x2="39.6" y2="413.3" stroke="#1a1a1a" stroke-width="1.1"/>
<line x1="62.07" y1="427.8" x2="62.07" y2="429.4" stroke="#1a1a1a" stroke-width="0.8"/>
<line x1="65.86" y1="427.8" x2="65.86" y2="429.4" stroke="#1a1a1a" stroke-width="0.8"/>
<line x1="68.54" y1="427.8" x2="68.54" y2="429.4" stroke="#1a1a1a" stroke-width="0.8"/>
<line x1="70.63" y1="427.8" x2="70.63" y2="429.4" stroke="#1a1a1a" stroke-width="0.8"/>
<line x1="72.33" y1="427.8" x2="72.33" y2="429.4" stroke="#1a1a1a" stroke-width="0.8"/>
<line x1="73.77" y1="427.8" x2="73.77" y2="429.4" stroke="#1a1a1a" stroke-width="0.8"/>
<line x1="75.02" y1="427.8" x2="75.02" y2="429.4" stroke="#1a1a1a" stroke-width="0.8"/>
<line x1="76.12" y1="427.8" x2="76.12" y2="429.4" stroke="#1a1a1a" stroke-width="0.8"/>
<line x1="82.97" y1="427.8" x2="82.97" y2="429.4" stroke="#1a1a1a" stroke-width="0.8"/>
<line x1="86.4" y1="427.8" x2="86.4" y2="429.4" stroke="#1a1a1a" stroke-width="0.8"/>
<line x1="88.84" y1="427.8" x2="88.84" y2="429.4" stroke="#1a1a1a" stroke-width="0.8"/>
<line x1="90.73" y1="427.8" x2="90.73" y2="429.4" stroke="#1a1a1a" stroke-width="0.8"/>
<line x1="92.27" y1="427.8" x2="92.27" y2="429.4" stroke="#1a1a1a" stroke-width="0.8"/>
<line x1="93.58" y1="427.8" x2="93.58" y2="429.4" stroke="#1a1a1a" stroke-width="0.8"/>
<line x1="94.71" y1="427.8" x2="94.71" y2="429.4" stroke="#1a1a1a" stroke-width="0.8"/>
<line x1="95.71" y1="427.8" x2="95.71" y2="429.4" stroke="#1a1a1a" stroke-width="0.8"/>
<line x1="102.26" y1="427.8" x2="102.26" y2="429.4" stroke="#1a1a1a" stroke-width="0.8"/>
<line x1="105.57" y1="427.8" x2="105.57" y2="429.4" stroke="#1a1a1a" stroke-width="0.8"/>
<line x1="107.92" y1="427.8" x2="107.92" y2="429.4" stroke="#1a1a1a" stroke-width="0.8"/>
<line x1="109.74" y1="427.8" x2="109.74" y2="429.4" stroke="#1a1a1a" stroke-width="0.8"/>
<line x1="111.23" y1="427.8" x2="111.23" y2="429.4" stroke="#1a1a1a" stroke-width="0.8"/>
<line x1="112.49" y1="427.8" x2="112.49" y2="429.4" stroke="#1a1a1a" stroke-width="0.8"/>
<line x1="113.58" y1="427.8" x2="113.58" y2="429.4" stroke="#1a1a1a" stroke-width="0.8"/>
<line x1="114.54" y1="427.8" x2="114.54" y2="429.4" stroke="#1a1a1a" stroke-width="0.8"/>
<line x1="50.95" y1="427.8" x2="50.95" y2="429.4" stroke="#1a1a1a" stroke-width="0.8"/>
<line x1="52.5" y1="427.8" x2="52.5" y2="429.4" stroke="#1a1a1a" stroke-width="0.8"/>
<line x1="54.05" y1="427.8" x2="54.05" y2="429.4" stroke="#1a1a1a" stroke-width="0.8"/>
<line x1="42.05" y1="427.8" x2="42.05" y2="429.4" stroke="#1a1a1a" stroke-width="0.8"/>
<line x1="44.5" y1="427.8" x2="44.5" y2="429.4" stroke="#1a1a1a" stroke-width="0.8"/>
<line x1="46.95" y1="427.8" x2="46.95" y2="429.4" stroke="#1a1a1a" stroke-width="0.8"/>
<line x1="39.6" y1="427.8" x2="39.6" y2="431" stroke="#1a1a1a" stroke-width="1.1"/>
<line x1="49.4" y1="427.8" x2="49.4" y2="431" stroke="#1a1a1a" stroke-width="1.1"/>
<line x1="55.6" y1="427.8" x2="55.6" y2="431" stroke="#1a1a1a" stroke-width="1.1"/>
<line x1="77.1" y1="427.8" x2="77.1" y2="431" stroke="#1a1a1a" stroke-width="1.1"/>
<line x1="96.6" y1="427.8" x2="96.6" y2="431" stroke="#1a1a1a" stroke-width="1.1"/>
<line x1="115.4" y1="427.8" x2="115.4" y2="431" stroke="#1a1a1a" stroke-width="1.1"/>
<rect x="64.2" y="357" width="48.3" height="64" fill="none" stroke="#5f5f5f" stroke-width="1"/>
<rect x="39.6" y="350.8" width="83.7" height="77" fill="none" stroke="#1a1a1a" stroke-width="1.4"/>
<text x="32.4" y="360" font-size="6" text-anchor="end" fill="#222" stroke="#222" stroke-width="0.26">10<tspan dy="-2.4" font-size="3.7">5</tspan></text>
<text x="32.4" y="377.2" font-size="6" text-anchor="end" fill="#222" stroke="#222" stroke-width="0.26">10<tspan dy="-2.4" font-size="3.7">4</tspan></text>
<text x="32.4" y="396.7" font-size="6" text-anchor="end" fill="#222" stroke="#222" stroke-width="0.26">10<tspan dy="-2.4" font-size="3.7">3</tspan></text>
<text x="32.8" y="415.5" font-size="6" text-anchor="end" fill="#222" stroke="#222" stroke-width="0.26">0</text>
<text x="33.4" y="430" font-size="6" text-anchor="end" fill="#222" stroke="#222" stroke-width="0.26">-630</text>
<text x="37.4" y="440.1" font-size="6" text-anchor="middle" fill="#222" stroke="#222" stroke-width="0.26">-173</text>
<text x="49.2" y="440.1" font-size="6" text-anchor="middle" fill="#222" stroke="#222" stroke-width="0.26">0</text>
<text x="56.2" y="440.1" font-size="6" text-anchor="middle" fill="#222" stroke="#222" stroke-width="0.26">10<tspan dy="-2.4" font-size="3.7">2</tspan></text>
<text x="77" y="440.1" font-size="6" text-anchor="middle" fill="#222" stroke="#222" stroke-width="0.26">10<tspan dy="-2.4" font-size="3.7">3</tspan></text>
<text x="96.9" y="440.1" font-size="6" text-anchor="middle" fill="#222" stroke="#222" stroke-width="0.26">10<tspan dy="-2.4" font-size="3.7">4</tspan></text>
<text x="115.9" y="440.1" font-size="6" text-anchor="middle" fill="#222" stroke="#222" stroke-width="0.26">10<tspan dy="-2.4" font-size="3.7">5</tspan></text>
<text x="81.2" y="452.5" font-size="10.5" text-anchor="middle" textLength="27" lengthAdjust="spacingAndGlyphs" fill="#222" stroke="#222" stroke-width="0.17">NKG2C</text>
<text transform="translate(15.2,389.4) rotate(-90)" font-size="10.3" text-anchor="middle" textLength="21" lengthAdjust="spacingAndGlyphs" fill="#222" stroke="#222" stroke-width="0.17">CD56</text>
<text x="81.4" y="345.5" font-size="10" text-anchor="middle" fill="#222" stroke="#222" stroke-width="0.08">410</text>
<text x="66.9" y="410.7" font-size="7.2" textLength="43" lengthAdjust="spacingAndGlyphs" fill="#222" stroke="#222" stroke-width="0.12">NKG2C+ NK</text>
<path d="M197.87 376.54h0 M196.33 378.7h0 M194.97 366.62h0 M195.03 379.84h0 M198.66 391.27h0 M201.83 367.63h0 M194.74 380.46h0 M186.16 372.38h0 M193.91 384.37h0 M205.77 379.91h0 M199.13 375.69h0 M192.1 367.21h0 M197.11 359.24h0 M193.39 378.2h0 M194.53 389.93h0 M192.16 377.93h0 M197.84 361.63h0 M191.01 377.67h0 M198.44 369.06h0 M197.53 380.81h0 M193.98 384.18h0 M197.64 371.52h0 M199.12 385.13h0 M195.56 381.76h0 M186.59 365.16h0 M190.67 378.38h0 M192.43 373.72h0 M186.79 378.85h0 M188.33 363h0 M193.31 391.45h0 M190.34 366.44h0 M201.01 394.03h0 M191 374.9h0 M193.55 386.89h0 M195.4 358.9h0 M186.17 364.74h0 M195.34 378.06h0 M203.44 374.31h0 M194.59 377.75h0 M194.45 391.66h0 M200.5 370.95h0 M196.85 373.21h0 M193.41 378.58h0 M192.88 372.32h0 M202.06 374.36h0 M196.95 393.74h0 M196.49 387.23h0 M201.05 387.85h0 M203.03 362.76h0 M204.47 377.28h0 M194.52 378.56h0 M187.98 374.66h0 M192.16 377.75h0 M192.71 374.79h0 M198.01 360.97h0 M189.79 378.33h0 M190.35 371.49h0 M190.13 379.09h0 M200.21 375.15h0 M191.15 380.55h0 M191.3 357.68h0 M194.36 373.23h0 M189.32 383.28h0 M193.01 371.36h0 M192.83 375.83h0 M195.38 379.23h0 M189.88 364.36h0 M186.19 375.61h0 M185.86 384.55h0 M191.59 359.26h0 M202.51 367.08h0 M192.44 374.56h0 M187.83 359.33h0 M192.67 385.45h0 M189.67 384.21h0 M198.12 383.06h0 M201.43 375.25h0 M202.01 369.99h0 M192.83 369h0 M192.76 387.31h0 M197.06 377.95h0 M202.96 362.24h0 M187.86 392.1h0 M194.72 356.25h0 M194.79 365.16h0 M201.61 388.44h0 M189.47 389.93h0 M187.75 386.2h0 M196.22 375.73h0 M196.26 380.69h0 M197.39 377.66h0 M195.63 386.6h0 M189.2 362.87h0 M192.5 360.28h0 M192.79 384.71h0 M201.81 379.65h0 M193.93 384.5h0 M201.15 373.81h0 M192.03 380.43h0 M193.69 377.7h0 M190.61 381.23h0 M198.06 384.6h0 M201.73 374.1h0 M191.24 393.94h0 M193.96 381.13h0 M190.73 386.69h0 M190.34 366.92h0 M192.39 372.58h0 M197.75 373.22h0 M193.49 374.83h0 M194.79 370.7h0 M199.38 362.76h0 M190.44 369.91h0 M196.64 377.4h0" stroke="#e8a277" stroke-width="0.9" stroke-linecap="round" opacity="0.65"/>
<path d="M209.57 373.04h0 M195.14 363.57h0 M199.74 370.57h0 M207.11 381.26h0 M215.47 375.72h0 M194.77 364.27h0 M204.48 381.33h0 M227.13 379.18h0 M224.84 399.48h0 M191.16 391.52h0 M217.39 393.15h0 M203.63 388.46h0 M197.98 376.16h0 M203.98 398.39h0 M201.17 388.46h0 M204.54 368.49h0 M206.66 384.92h0 M195.21 384.61h0 M195.2 366.48h0 M206.39 374.18h0 M191.96 357.45h0 M204.03 379.92h0 M198.24 379.25h0 M185.42 381.71h0 M208.75 380.34h0 M196.4 377.95h0 M205.31 389.83h0 M207.06 380.05h0 M195.07 387.34h0 M217.82 371.08h0 M211.42 380.7h0 M203.19 361.57h0 M224.83 354.62h0 M207.38 372.49h0 M217.48 371.93h0 M204.22 384.33h0 M209.22 370.77h0 M211.92 381.7h0 M215.6 370.88h0 M203.2 372.31h0 M193.71 380.05h0 M208.65 394h0 M199.85 381.64h0 M217.44 375.64h0 M204.51 378.61h0 M195.49 365.17h0 M217.12 379.07h0 M202.86 362.13h0 M205.16 391.04h0 M189.98 366.33h0" stroke="#c0b8c8" stroke-width="0.7" stroke-linecap="round" opacity="0.5"/>
<path d="M175.25 363 C177 362.92 179.33 362.67 180.75 364 C182.17 365.33 183 367.83 183.75 371 C184.5 374.17 184.83 379.33 185.25 383 C185.67 386.67 186.83 390.75 186.25 393 C185.67 395.25 183.83 395.87 181.75 396.5 C179.67 397.13 176.08 397.22 173.75 396.8 C171.42 396.38 168.95 396.3 167.75 394 C166.55 391.7 166.58 386.83 166.55 383 C166.52 379.17 166.93 374.08 167.55 371 C168.17 367.92 168.97 365.83 170.25 364.5 C171.53 363.17 173.5 363.08 175.25 363Z" fill="#eef6e4" stroke="none" stroke-width="0.6" opacity="0.9"/>
<path d="M183.44 394.26h0 M186.31 374.49h0 M180.14 372.52h0 M179.62 376.37h0 M177.52 393.36h0 M178.44 377.6h0 M176.61 382.65h0 M172.93 382.06h0 M180.13 395.52h0 M168.25 388.71h0 M177.03 391.32h0 M172.97 375.18h0 M178.45 374.2h0 M183.43 379.97h0 M173.35 389.2h0 M170.91 392.39h0 M182.48 381.39h0 M182.65 395.97h0 M185.14 380.01h0 M175.9 390.99h0 M166.76 374.02h0 M179.38 385.65h0 M178.34 384.38h0 M167.75 378.16h0 M177.93 377.76h0 M176.64 386.03h0 M170.12 374.38h0 M169.46 363.14h0 M181.21 377.88h0 M182.47 376.35h0 M177.22 381.14h0 M174.93 388h0 M169.25 385.91h0 M183.11 365.25h0 M171.8 370.15h0 M179.86 385h0 M171.54 368.87h0 M180.38 378.47h0 M172.53 377.29h0 M174.47 372.82h0 M176.77 389.52h0 M166.58 377.75h0 M185.82 387.32h0 M171.03 372.05h0 M170.77 364.17h0 M183.62 380.69h0 M171.78 365.87h0 M173.79 374.96h0 M176.99 390.55h0 M180.52 378.22h0 M180.08 375.73h0 M175.68 370.6h0 M170.5 365.4h0 M179.46 385.1h0 M177.37 387.67h0 M179.68 381.2h0 M170.6 385.81h0 M183.83 386.21h0 M184.22 375.35h0 M170 392.3h0 M172.52 382.39h0 M175.03 380.22h0 M174.52 374.71h0 M177.55 361.11h0 M170.46 368.95h0 M179.92 396.09h0 M174.68 387.3h0 M180.08 367.79h0 M184.02 363.47h0 M172.58 376.48h0 M184.26 381.16h0 M175.46 372.12h0 M176.82 380.42h0 M180.9 393.67h0 M180.95 380.18h0 M175.28 395.69h0 M177.53 379.84h0 M179.87 378.94h0 M172.21 390.45h0 M173.37 389.4h0 M171.27 381.03h0 M178.81 381.42h0 M177.74 383.73h0 M169.11 369.14h0 M175.31 397.66h0 M175.46 370.94h0 M172.06 380.33h0 M183.77 374.47h0 M179.81 381.83h0 M173.99 370.77h0 M175.28 372.94h0 M179.67 362.79h0 M183.42 387.41h0 M179.93 394.63h0 M180.08 363.31h0 M176.59 384.4h0 M171.91 368.96h0 M179 384.99h0 M173.55 377.63h0 M173.03 374.46h0 M175.88 390.48h0 M166.04 376.68h0 M186.49 383.1h0 M177.23 388.15h0 M169.89 368.2h0 M177.83 388.29h0 M173.61 373.37h0 M178.81 385.98h0 M177.88 361.44h0 M177.79 371.72h0 M172.1 394.65h0 M184.62 384.7h0 M178 381.69h0 M172.54 379.51h0 M172.06 381.58h0 M181.9 388.12h0 M170.13 378.73h0 M174.57 368h0 M176.74 375.32h0 M182.07 384.22h0 M171.32 380.79h0 M173.99 373.82h0 M173.17 390.35h0 M173.64 363.33h0 M171.35 387.85h0 M174 376.8h0 M167.35 383.91h0 M175.93 382.72h0 M181.27 388.11h0 M172.23 374.24h0 M186.09 386.96h0 M177.16 369.37h0 M181.83 385.13h0 M181.33 382.61h0 M176.64 374.65h0 M178.2 382.38h0 M180.37 390.56h0 M178.22 374.72h0 M181.35 395.1h0 M170.98 384.08h0 M179.72 385.22h0 M179.44 379.12h0 M175.61 396.4h0 M187.2 366.38h0 M171.99 374.98h0 M166.18 383.44h0 M175.91 374.76h0 M185.57 391.41h0 M173.65 386.4h0 M176.01 391.25h0 M179.93 379.66h0 M179.74 373.03h0 M181.26 394.62h0 M173.97 385.41h0 M181.79 370.08h0 M181.77 377.36h0 M183.22 364.94h0 M175.63 389.5h0 M171.97 386.61h0 M173.98 383.35h0 M168.43 387.57h0 M184.54 369.08h0 M174.75 363.39h0 M178.17 372.95h0 M172.7 371.87h0 M178.11 375.47h0 M170.54 377.8h0 M178.82 371.69h0 M183.27 363.87h0 M178.83 376.22h0 M186.19 373.75h0 M172.06 366.97h0 M169.4 376.74h0 M170.2 394.8h0 M177.58 388.89h0 M176.26 384.6h0 M175.56 382.03h0 M177.6 373.13h0 M178.45 381.61h0 M176.01 373.36h0 M169.85 382.39h0 M172.87 393.16h0 M182.03 373.07h0 M184.79 370.41h0 M173.49 377.9h0 M165.83 370.18h0 M168.82 378.66h0 M174 374.11h0 M172.24 387.23h0 M185.94 376.04h0 M186.45 395.66h0 M184.73 382.91h0 M166.83 386.56h0 M173.67 381.89h0" stroke="#86bb4a" stroke-width="0.9" stroke-linecap="round" opacity="0.6"/>
<path d="M175.25 363 C177 362.92 179.33 362.67 180.75 364 C182.17 365.33 183 367.83 183.75 371 C184.5 374.17 184.83 379.33 185.25 383 C185.67 386.67 186.83 390.75 186.25 393 C185.67 395.25 183.83 395.87 181.75 396.5 C179.67 397.13 176.08 397.22 173.75 396.8 C171.42 396.38 168.95 396.3 167.75 394 C166.55 391.7 166.58 386.83 166.55 383 C166.52 379.17 166.93 374.08 167.55 371 C168.17 367.92 168.97 365.83 170.25 364.5 C171.53 363.17 173.5 363.08 175.25 363Z" fill="none" stroke="#86bb4a" stroke-width="0.7" opacity="0.8"/>
<path d="M174.75 366 C175.92 365.92 178.33 365.58 178.75 366.5 C179.17 367.42 177.83 370.33 177.25 371.5 C176.67 372.67 176 373.67 175.25 373.5 C174.5 373.33 173.33 371.58 172.75 370.5 C172.17 369.42 171.42 367.75 171.75 367 C172.08 366.25 173.58 366.08 174.75 366Z" fill="none" stroke="#5f9a2c" stroke-width="0.8" opacity="1"/>
<path d="M174.95 373.5 C176.03 373.83 177.53 376.92 178.75 379 C179.97 381.08 181.33 383.83 182.25 386 C183.17 388.17 184.33 390.58 184.25 392 C184.17 393.42 182.58 394.92 181.75 394.5 C180.92 394.08 180.25 391.75 179.25 389.5 C178.25 387.25 176.92 383.08 175.75 381 C174.58 378.92 172.38 378.25 172.25 377 C172.12 375.75 173.87 373.17 174.95 373.5Z" fill="none" stroke="#5f9a2c" stroke-width="0.8" opacity="1"/>
<path d="M171.25 378 C172 377.5 173.17 379.33 173.75 381 C174.33 382.67 174.83 385.92 174.75 388 C174.67 390.08 174.05 392.83 173.25 393.5 C172.45 394.17 170.62 393.58 169.95 392 C169.28 390.42 169.03 386.33 169.25 384 C169.47 381.67 170.5 378.5 171.25 378Z" fill="none" stroke="#a9d36e" stroke-width="0.6" opacity="1"/>
<path d="M195.02 386.81h0 M195.22 392.91h0 M195.01 387.4h0 M202.14 383.97h0 M191.21 389.95h0 M192.29 383.64h0 M195.11 390.94h0 M191.62 392.43h0 M195.9 391.78h0 M189.2 388.99h0 M199.54 393.71h0 M198.61 389h0 M194.86 387.53h0 M197.89 387.37h0 M194.66 384.17h0 M189.27 393.16h0 M194.45 389.5h0 M186.98 388.92h0 M201.11 385.5h0 M192.49 388.51h0 M190.08 385.82h0 M190.15 390.5h0 M194.09 390.93h0 M190.67 390.38h0 M192.78 389.21h0 M197.35 389.08h0 M193.08 385.1h0 M194.46 390.84h0 M192.15 388.84h0 M188.37 385.87h0 M195.59 392.04h0 M193.22 385.08h0 M192.99 385.33h0 M193.33 393.54h0 M195.25 388.64h0 M197.7 388.11h0 M195.36 389.47h0 M195.73 385.54h0 M196.62 391.08h0 M191.26 392.51h0 M194.32 390.6h0 M196.1 391.09h0 M192.12 387.62h0 M195.5 390.43h0 M196.17 389.8h0 M192.63 391.6h0 M195.82 391.51h0 M192.03 389.28h0 M192.66 388.27h0 M194.89 389.82h0 M191.58 383.02h0 M191.64 390.28h0 M191.43 390.01h0 M193.02 386.77h0 M198.16 392.92h0 M193.9 388.88h0 M197.46 385.86h0 M191.32 391.68h0 M197.27 387.83h0 M191.64 389.83h0 M189.53 387.82h0 M193.47 383.16h0 M196.23 390.81h0 M197.83 385.59h0 M189.93 387.07h0 M189.86 393.88h0 M190.96 388.26h0 M194.94 390.08h0 M199.13 386.41h0 M197.21 389.35h0 M190.3 389.36h0 M189.53 392.86h0 M191.79 391.39h0 M198.63 387.53h0 M191.22 389.31h0 M190.71 391.14h0 M194.84 387.18h0 M191.94 390.73h0 M189.36 393.02h0 M191.6 388.53h0 M191.13 392.87h0 M197.03 392.1h0 M196.46 389.21h0 M199.98 390.59h0 M195.73 390.38h0 M196.74 389.66h0 M193.69 385.19h0 M201.22 385.89h0 M186.96 387.3h0 M200.8 391.92h0 M192.21 389.63h0 M194.17 384.25h0 M193.12 389.7h0 M198.22 386.12h0 M195.37 389.19h0 M194.76 389.35h0 M193.01 385.73h0 M195.79 389.93h0 M196.21 391.99h0 M190.04 383.4h0 M188.2 394.12h0 M191.15 389.96h0 M194.2 390.75h0 M205.16 387.76h0 M193.67 387.57h0 M195.08 390.25h0 M190.95 392.16h0 M198.15 390.07h0 M193.88 388.43h0 M188.66 390.57h0 M190.94 387.8h0 M197.64 386.79h0 M192.48 391.06h0 M200.56 387.34h0 M198 387.43h0 M195.57 390.16h0 M190.38 391.46h0 M200.37 389.12h0 M195.17 386.19h0 M200.33 389.15h0 M189.91 390.83h0 M189.28 387.35h0 M187 392.3h0 M201.77 387.48h0 M192.03 387.61h0 M192.33 390.33h0 M199.21 386.58h0 M195.75 384.67h0 M199.43 388.79h0 M191.87 392.67h0 M193.89 392.29h0 M197.9 392.98h0 M191.53 389.14h0 M195.5 388.53h0 M199.43 387.29h0 M197.66 392.27h0 M187.61 386.67h0 M191.18 387.69h0 M195.58 388.58h0 M194.52 387.9h0 M193.97 390.16h0 M196.78 387.12h0 M193.86 387.17h0 M193.64 385.55h0 M197.5 390.61h0 M193.83 387.36h0 M192.7 387.4h0 M189 392.92h0 M205.44 386.05h0 M190.28 390.39h0 M196.31 385.22h0 M187.72 390.3h0 M187.48 392.42h0 M192.57 389.21h0 M194.24 387.66h0 M193.77 388.28h0 M198.48 388.78h0 M194.14 387.73h0 M192.09 387.23h0 M194.29 393.41h0 M198.04 389.57h0 M199.92 391.43h0 M194.95 388.61h0 M190.52 389.6h0 M193.18 385.2h0 M189.88 393.65h0 M194.98 390.19h0 M194.93 387.88h0 M195.82 391.6h0 M193.2 390.23h0 M197.74 387.84h0 M194.83 387.22h0 M196.3 388.11h0 M198.15 387.17h0 M199.99 388.25h0 M191.39 386.83h0 M196.5 386.95h0 M200.39 392.08h0 M196.01 385.59h0 M194.17 387.26h0 M188.09 390.02h0 M201.74 387.71h0 M197 392.08h0 M190.98 388.18h0 M195.16 390.13h0 M190.36 389.52h0 M193.89 391.28h0 M188.82 387.65h0 M192.54 388.24h0 M196.71 387.49h0 M203.56 387.3h0 M197.11 391.45h0 M197.53 388.51h0 M191.43 388.39h0 M196.51 389.29h0 M196.23 390.38h0 M191.24 386.76h0 M199.15 387.83h0 M188.86 393.46h0 M191.42 386.76h0 M197.54 386.28h0 M191.29 391.52h0 M191.46 395.02h0 M194.58 395.44h0 M194.69 389.13h0 M192.07 388.47h0 M192.55 388.94h0 M196.87 385.95h0 M191.13 383.98h0 M199.36 388.82h0 M194.2 388.86h0 M197.67 389.77h0 M197.14 388.6h0 M193.84 388.87h0 M187.92 391.62h0 M188.89 386.61h0 M196.53 389.13h0 M197.01 393.09h0 M200.58 392.32h0 M193.48 393.92h0 M191.26 388.79h0 M197.64 388.49h0 M193.84 388.15h0 M198.89 383.08h0 M198.58 391.54h0 M194 390.35h0 M190.96 391.66h0 M204.66 386.79h0 M199 388.86h0 M193.1 387.83h0 M193.61 386h0 M189.63 392.99h0 M194.19 390.33h0 M195.31 390.14h0 M189.06 386.72h0 M196.4 391.4h0 M190.36 387.61h0 M190.62 390.57h0 M195.42 389.08h0 M192.04 389.82h0 M194.36 387.22h0 M195.38 387.4h0 M197.49 390.5h0 M191.91 390.41h0 M194.48 387.31h0 M191.14 385.01h0 M190.41 389.83h0 M198.36 387.49h0 M194.79 389.83h0 M196.9 390.06h0 M198.42 390.84h0 M191.66 389.95h0 M194.32 390.39h0 M193.22 391h0" stroke="#d9773c" stroke-width="1.0" stroke-linecap="round" opacity="0.75"/>
<path d="M188.75 386.5 C189.58 385.4 191.75 385.25 193.25 385.2 C194.75 385.15 196.75 385.48 197.75 386.2 C198.75 386.92 199.33 388.45 199.25 389.5 C199.17 390.55 198.42 391.87 197.25 392.5 C196.08 393.13 193.75 393.42 192.25 393.3 C190.75 393.18 188.83 392.93 188.25 391.8 C187.67 390.67 187.92 387.6 188.75 386.5Z" fill="#eaa070" stroke="none" stroke-width="0.6" opacity="0.45"/>
<path d="M197.92 387.79h0 M193.45 389.77h0 M195.93 389.56h0 M196.74 387.17h0 M196.61 391.4h0 M197.41 390.07h0 M194.18 390.02h0 M194.57 386.44h0 M193.3 389.23h0 M193.51 387.62h0 M194.19 388.63h0 M194.92 389.21h0 M195.16 391.09h0 M195.08 390.03h0 M191.82 383.99h0 M193.79 390.52h0 M193.94 388.18h0 M191.77 390.91h0 M193.48 389.74h0 M197.46 390.26h0 M200.13 389.06h0 M197.04 390.55h0 M193.18 389.39h0 M193.39 387.46h0 M195.47 387.91h0 M198.78 387.97h0 M193.44 389.46h0 M193.51 389.4h0 M193.29 386.74h0 M188.96 386.98h0 M198.4 390.1h0 M195.12 388.46h0 M194.4 389.84h0 M191.42 387.86h0 M192.61 391.57h0 M192.21 391.41h0 M193.63 394.21h0 M194.56 389.36h0 M197.99 390.87h0 M197 387.38h0 M197.48 392.32h0 M194.5 388.43h0 M192.13 391.13h0 M195.46 389.31h0 M191.79 392.22h0 M196.85 389.26h0 M198.29 387.59h0 M196.87 387.5h0 M198.14 388.8h0 M197.69 388.55h0 M195.71 391.36h0 M192.59 389.47h0 M192.74 390.83h0 M193.3 388.63h0 M194.26 391.4h0 M192.25 389.25h0 M193.96 388.31h0 M192.86 389.01h0 M195.22 386.51h0 M195.31 387.17h0 M194.79 393.4h0 M192.43 389.18h0 M194.14 391.07h0 M193.61 386.09h0 M190.88 389.62h0 M195.36 391.22h0 M193.46 390.5h0 M192.2 391.63h0 M194.58 388.08h0 M195.18 392.44h0 M192.72 387.07h0 M192.31 387.22h0 M194.63 389.93h0 M194.36 389.65h0 M197.59 388.78h0 M191.74 385.19h0 M195.33 388.08h0 M194.15 390.04h0 M195.86 386.48h0 M192.45 389.43h0 M194.4 391.36h0 M193.55 385.58h0 M197.56 386.36h0 M192.42 390h0 M192.21 393.78h0 M195.32 390.26h0 M193.7 393.29h0 M196.05 388.01h0 M197.76 386.26h0 M193.34 389.82h0 M195.08 387.57h0 M198.54 391.95h0 M192.51 389.97h0 M193.23 388.52h0 M197.12 389.53h0 M194.49 389.48h0 M191.94 391.5h0 M192.95 391.66h0 M193.65 388.48h0 M198.32 389.64h0 M193.22 388.34h0 M196.2 392.67h0 M196.22 388.59h0 M192.06 388.09h0 M194.46 389.74h0 M193.18 391.6h0 M192.45 388.01h0 M195.94 390.17h0 M193.81 391.03h0 M191.37 392.24h0 M200 392.81h0 M195.04 392.84h0 M194.88 391.69h0 M194.27 389.65h0 M196.01 386.16h0 M194.25 392.39h0 M187.74 389.99h0 M196.96 389.89h0 M195.22 391.8h0 M195.56 385.89h0" stroke="#c25a1c" stroke-width="1.0" stroke-linecap="round" opacity="0.7"/>
<path d="M189.44 375.22h0 M193.25 374.32h0 M196.03 380.61h0 M192.8 377.38h0 M194.02 378.45h0 M190.22 381.69h0 M189.86 376.76h0 M191.5 370.1h0 M194.87 376.58h0 M188.68 376.53h0 M187.93 385.6h0 M190.77 381.23h0 M189.37 371.9h0 M192.44 379.46h0 M195.98 375.4h0 M196.6 382.78h0 M189.69 375.93h0 M190.83 382.29h0 M195.94 375.48h0 M191.05 379.06h0 M190.05 369.44h0 M189.38 379.03h0 M188.73 383.9h0 M195.18 377.76h0 M197.89 374.77h0 M190.9 370.72h0 M190.46 377.69h0 M195.09 384.65h0 M191.81 372.64h0 M191.59 374.44h0 M191.12 374.6h0 M189.72 376.69h0 M190.97 375.99h0 M187.93 377.87h0 M194.74 380.86h0 M190.84 370.2h0 M188.23 370.01h0 M190.51 375.15h0 M187.4 372.92h0 M190.24 381.94h0 M199.14 374.9h0 M191.8 374.67h0 M192.06 375.99h0 M201.32 370.53h0 M192.37 372.31h0 M193.99 373.91h0 M194.75 370.58h0 M200.07 378.25h0 M191.12 370.14h0 M194.28 373.93h0 M195.31 373.75h0 M195.88 377.89h0 M193.99 377.94h0 M191.49 374.86h0 M194.32 381.21h0 M198.61 370.21h0 M196.51 376.59h0 M193.56 372.33h0 M198.47 372.12h0 M192.47 372.71h0 M199.44 384.43h0 M188.19 374.34h0 M194.01 374.45h0 M191.53 370.64h0 M193.62 370.55h0 M191.62 386.73h0 M194.04 373.05h0 M191.56 371.33h0 M193.15 381.14h0 M195.97 375.36h0 M188.63 376.56h0 M198.53 378.67h0 M192.53 364.75h0 M191.26 380.22h0 M189.49 384.97h0 M190.8 371.87h0 M190.75 376.46h0 M196.2 373.68h0 M194.55 386.1h0" stroke="#e8a47a" stroke-width="0.9" stroke-linecap="round" opacity="0.6"/>
<path d="M188.25 393.3 q2 1.5 4.5 0.3" stroke="#f2a8b4" stroke-width="1.6" fill="none" opacity="0.8"/>
<line x1="160.15" y1="388.83" x2="161.75" y2="388.83" stroke="#1a1a1a" stroke-width="0.8"/>
<line x1="160.15" y1="385.4" x2="161.75" y2="385.4" stroke="#1a1a1a" stroke-width="0.8"/>
<line x1="160.15" y1="382.96" x2="161.75" y2="382.96" stroke="#1a1a1a" stroke-width="0.8"/>
<line x1="160.15" y1="381.07" x2="161.75" y2="381.07" stroke="#1a1a1a" stroke-width="0.8"/>
<line x1="160.15" y1="379.53" x2="161.75" y2="379.53" stroke="#1a1a1a" stroke-width="0.8"/>
<line x1="160.15" y1="378.22" x2="161.75" y2="378.22" stroke="#1a1a1a" stroke-width="0.8"/>
<line x1="160.15" y1="377.09" x2="161.75" y2="377.09" stroke="#1a1a1a" stroke-width="0.8"/>
<line x1="160.15" y1="376.09" x2="161.75" y2="376.09" stroke="#1a1a1a" stroke-width="0.8"/>
<line x1="160.15" y1="370.02" x2="161.75" y2="370.02" stroke="#1a1a1a" stroke-width="0.8"/>
<line x1="160.15" y1="366.99" x2="161.75" y2="366.99" stroke="#1a1a1a" stroke-width="0.8"/>
<line x1="160.15" y1="364.84" x2="161.75" y2="364.84" stroke="#1a1a1a" stroke-width="0.8"/>
<line x1="160.15" y1="363.18" x2="161.75" y2="363.18" stroke="#1a1a1a" stroke-width="0.8"/>
<line x1="160.15" y1="361.82" x2="161.75" y2="361.82" stroke="#1a1a1a" stroke-width="0.8"/>
<line x1="160.15" y1="360.66" x2="161.75" y2="360.66" stroke="#1a1a1a" stroke-width="0.8"/>
<line x1="160.15" y1="359.67" x2="161.75" y2="359.67" stroke="#1a1a1a" stroke-width="0.8"/>
<line x1="160.15" y1="358.79" x2="161.75" y2="358.79" stroke="#1a1a1a" stroke-width="0.8"/>
<line x1="160.15" y1="397.83" x2="161.75" y2="397.83" stroke="#1a1a1a" stroke-width="0.8"/>
<line x1="160.15" y1="400.97" x2="161.75" y2="400.97" stroke="#1a1a1a" stroke-width="0.8"/>
<line x1="160.15" y1="404.1" x2="161.75" y2="404.1" stroke="#1a1a1a" stroke-width="0.8"/>
<line x1="160.15" y1="407.23" x2="161.75" y2="407.23" stroke="#1a1a1a" stroke-width="0.8"/>
<line x1="160.15" y1="410.37" x2="161.75" y2="410.37" stroke="#1a1a1a" stroke-width="0.8"/>
<line x1="160.15" y1="418.33" x2="161.75" y2="418.33" stroke="#1a1a1a" stroke-width="0.8"/>
<line x1="160.15" y1="423.17" x2="161.75" y2="423.17" stroke="#1a1a1a" stroke-width="0.8"/>
<line x1="158.55" y1="358" x2="161.75" y2="358" stroke="#1a1a1a" stroke-width="1.1"/>
<line x1="158.55" y1="375.2" x2="161.75" y2="375.2" stroke="#1a1a1a" stroke-width="1.1"/>
<line x1="158.55" y1="394.7" x2="161.75" y2="394.7" stroke="#1a1a1a" stroke-width="1.1"/>
<line x1="158.55" y1="413.5" x2="161.75" y2="413.5" stroke="#1a1a1a" stroke-width="1.1"/>
<line x1="184.22" y1="428" x2="184.22" y2="429.6" stroke="#1a1a1a" stroke-width="0.8"/>
<line x1="188.01" y1="428" x2="188.01" y2="429.6" stroke="#1a1a1a" stroke-width="0.8"/>
<line x1="190.69" y1="428" x2="190.69" y2="429.6" stroke="#1a1a1a" stroke-width="0.8"/>
<line x1="192.78" y1="428" x2="192.78" y2="429.6" stroke="#1a1a1a" stroke-width="0.8"/>
<line x1="194.48" y1="428" x2="194.48" y2="429.6" stroke="#1a1a1a" stroke-width="0.8"/>
<line x1="195.92" y1="428" x2="195.92" y2="429.6" stroke="#1a1a1a" stroke-width="0.8"/>
<line x1="197.17" y1="428" x2="197.17" y2="429.6" stroke="#1a1a1a" stroke-width="0.8"/>
<line x1="198.27" y1="428" x2="198.27" y2="429.6" stroke="#1a1a1a" stroke-width="0.8"/>
<line x1="205.12" y1="428" x2="205.12" y2="429.6" stroke="#1a1a1a" stroke-width="0.8"/>
<line x1="208.55" y1="428" x2="208.55" y2="429.6" stroke="#1a1a1a" stroke-width="0.8"/>
<line x1="210.99" y1="428" x2="210.99" y2="429.6" stroke="#1a1a1a" stroke-width="0.8"/>
<line x1="212.88" y1="428" x2="212.88" y2="429.6" stroke="#1a1a1a" stroke-width="0.8"/>
<line x1="214.42" y1="428" x2="214.42" y2="429.6" stroke="#1a1a1a" stroke-width="0.8"/>
<line x1="215.73" y1="428" x2="215.73" y2="429.6" stroke="#1a1a1a" stroke-width="0.8"/>
<line x1="216.86" y1="428" x2="216.86" y2="429.6" stroke="#1a1a1a" stroke-width="0.8"/>
<line x1="217.86" y1="428" x2="217.86" y2="429.6" stroke="#1a1a1a" stroke-width="0.8"/>
<line x1="224.41" y1="428" x2="224.41" y2="429.6" stroke="#1a1a1a" stroke-width="0.8"/>
<line x1="227.72" y1="428" x2="227.72" y2="429.6" stroke="#1a1a1a" stroke-width="0.8"/>
<line x1="230.07" y1="428" x2="230.07" y2="429.6" stroke="#1a1a1a" stroke-width="0.8"/>
<line x1="231.89" y1="428" x2="231.89" y2="429.6" stroke="#1a1a1a" stroke-width="0.8"/>
<line x1="233.38" y1="428" x2="233.38" y2="429.6" stroke="#1a1a1a" stroke-width="0.8"/>
<line x1="234.64" y1="428" x2="234.64" y2="429.6" stroke="#1a1a1a" stroke-width="0.8"/>
<line x1="235.73" y1="428" x2="235.73" y2="429.6" stroke="#1a1a1a" stroke-width="0.8"/>
<line x1="236.69" y1="428" x2="236.69" y2="429.6" stroke="#1a1a1a" stroke-width="0.8"/>
<line x1="173.1" y1="428" x2="173.1" y2="429.6" stroke="#1a1a1a" stroke-width="0.8"/>
<line x1="174.65" y1="428" x2="174.65" y2="429.6" stroke="#1a1a1a" stroke-width="0.8"/>
<line x1="176.2" y1="428" x2="176.2" y2="429.6" stroke="#1a1a1a" stroke-width="0.8"/>
<line x1="164.2" y1="428" x2="164.2" y2="429.6" stroke="#1a1a1a" stroke-width="0.8"/>
<line x1="166.65" y1="428" x2="166.65" y2="429.6" stroke="#1a1a1a" stroke-width="0.8"/>
<line x1="169.1" y1="428" x2="169.1" y2="429.6" stroke="#1a1a1a" stroke-width="0.8"/>
<line x1="161.75" y1="428" x2="161.75" y2="431.2" stroke="#1a1a1a" stroke-width="1.1"/>
<line x1="171.55" y1="428" x2="171.55" y2="431.2" stroke="#1a1a1a" stroke-width="1.1"/>
<line x1="177.75" y1="428" x2="177.75" y2="431.2" stroke="#1a1a1a" stroke-width="1.1"/>
<line x1="199.25" y1="428" x2="199.25" y2="431.2" stroke="#1a1a1a" stroke-width="1.1"/>
<line x1="218.75" y1="428" x2="218.75" y2="431.2" stroke="#1a1a1a" stroke-width="1.1"/>
<line x1="237.55" y1="428" x2="237.55" y2="431.2" stroke="#1a1a1a" stroke-width="1.1"/>
<rect x="186.35" y="357.2" width="48.3" height="64" fill="none" stroke="#5f5f5f" stroke-width="1"/>
<rect x="161.75" y="351" width="83.7" height="77" fill="none" stroke="#1a1a1a" stroke-width="1.4"/>
<text x="154.55" y="360.2" font-size="6" text-anchor="end" fill="#222" stroke="#222" stroke-width="0.26">10<tspan dy="-2.4" font-size="3.7">5</tspan></text>
<text x="154.55" y="377.4" font-size="6" text-anchor="end" fill="#222" stroke="#222" stroke-width="0.26">10<tspan dy="-2.4" font-size="3.7">4</tspan></text>
<text x="154.55" y="396.9" font-size="6" text-anchor="end" fill="#222" stroke="#222" stroke-width="0.26">10<tspan dy="-2.4" font-size="3.7">3</tspan></text>
<text x="154.95" y="415.7" font-size="6" text-anchor="end" fill="#222" stroke="#222" stroke-width="0.26">0</text>
<text x="155.55" y="430.2" font-size="6" text-anchor="end" fill="#222" stroke="#222" stroke-width="0.26">-630</text>
<text x="159.55" y="440.3" font-size="6" text-anchor="middle" fill="#222" stroke="#222" stroke-width="0.26">-173</text>
<text x="171.35" y="440.3" font-size="6" text-anchor="middle" fill="#222" stroke="#222" stroke-width="0.26">0</text>
<text x="178.35" y="440.3" font-size="6" text-anchor="middle" fill="#222" stroke="#222" stroke-width="0.26">10<tspan dy="-2.4" font-size="3.7">2</tspan></text>
<text x="199.15" y="440.3" font-size="6" text-anchor="middle" fill="#222" stroke="#222" stroke-width="0.26">10<tspan dy="-2.4" font-size="3.7">3</tspan></text>
<text x="219.05" y="440.3" font-size="6" text-anchor="middle" fill="#222" stroke="#222" stroke-width="0.26">10<tspan dy="-2.4" font-size="3.7">4</tspan></text>
<text x="238.05" y="440.3" font-size="6" text-anchor="middle" fill="#222" stroke="#222" stroke-width="0.26">10<tspan dy="-2.4" font-size="3.7">5</tspan></text>
<text x="203.35" y="452.7" font-size="10.5" text-anchor="middle" textLength="27" lengthAdjust="spacingAndGlyphs" fill="#222" stroke="#222" stroke-width="0.17">NKG2C</text>
<text transform="translate(137.35,389.6) rotate(-90)" font-size="10.3" text-anchor="middle" textLength="21" lengthAdjust="spacingAndGlyphs" fill="#222" stroke="#222" stroke-width="0.17">CD56</text>
<text x="203.55" y="345.7" font-size="10" text-anchor="middle" textLength="18.8" lengthAdjust="spacingAndGlyphs" fill="#222" stroke="#222" stroke-width="0.08">HD1</text>
<text x="189.05" y="410.9" font-size="7.2" textLength="43" lengthAdjust="spacingAndGlyphs" fill="#222" stroke="#222" stroke-width="0.12">NKG2C+ NK</text>
<path d="M312.31 388.66h0 M323.83 380.59h0 M314.59 370.09h0 M313.39 384.35h0 M320.9 385.4h0 M331.14 377.17h0 M319.2 392.07h0 M311.15 373.51h0 M317.14 374.05h0 M320.42 370.45h0 M326.93 366.33h0 M314.29 363.77h0 M310.54 381.64h0 M323.52 375.49h0 M324.9 381.88h0 M315.81 376.73h0 M321.85 392.79h0 M316.69 379.94h0 M322.99 386.58h0 M322.22 385.44h0 M312.7 374.98h0 M334.41 378.93h0 M320.07 379.12h0 M320.43 366.67h0 M315.07 375.68h0 M320.58 370.29h0 M318.82 371.3h0 M311.07 371.89h0 M314.36 383.6h0 M328.06 381.58h0 M318.15 372.69h0 M329.5 386.07h0 M320.94 375.13h0 M319.53 380.35h0 M319.45 380.4h0 M314.58 377.41h0 M317.26 385.46h0 M311.58 387.19h0 M318.95 373.12h0 M319.64 378.02h0 M318.01 380.36h0 M315.81 363.83h0 M323.95 376.86h0 M330.14 380.07h0 M315.11 381.33h0 M333.68 385.58h0 M312.51 376.34h0 M323.09 369.05h0 M322.4 384.35h0 M324.66 371.83h0 M315.08 368.32h0 M311.25 379.52h0 M319.75 387.21h0 M321.25 374.55h0 M310.39 389.1h0 M320.55 376.82h0 M313.08 368.9h0 M323.54 369.48h0 M323.24 381.96h0 M317.06 364.44h0 M322.13 388.01h0 M314.24 367.24h0 M326.45 378.18h0 M315.52 386.61h0 M317.74 380.58h0 M316.94 371.23h0 M320.9 370.39h0 M327.38 385.61h0 M333.38 384.79h0 M329.8 379.02h0 M316.72 380.7h0 M313.44 382.79h0 M316.64 379.08h0 M314.07 376.04h0 M325.75 375.39h0 M315.2 379.28h0 M325.12 375.63h0 M312.04 364.98h0 M310.96 385.35h0 M318.94 380.79h0 M326.35 379.29h0 M322.58 373.16h0 M318.89 381.54h0 M312.71 375.98h0 M332.35 370.57h0 M320.13 387.23h0 M318.02 378.05h0 M316.69 387.05h0 M318.92 374.2h0 M322.28 375.23h0 M316.22 389.03h0 M325.76 377.94h0 M324.65 383.47h0 M323.2 377.45h0 M319.96 380.25h0 M323.1 379.83h0 M315.99 376.52h0 M322.42 369.51h0 M319.44 382.94h0 M320.58 374.9h0 M319.36 373.38h0 M325.76 374.2h0 M321.41 378.72h0 M316.5 367.01h0 M318.55 370.65h0 M315.32 377.1h0 M314.62 379.51h0 M314.8 373.54h0 M318.05 388.34h0 M329.54 384.36h0 M314.82 377.15h0 M325.32 383.31h0 M314.8 382.87h0 M323.56 373h0 M333.13 374.99h0 M335.04 375.82h0 M318.96 391.67h0 M316.15 373.51h0 M328.89 376.82h0 M322.54 367.49h0 M330.88 384.65h0 M321.77 382.53h0 M316.32 373.5h0 M327.37 383.67h0 M325.35 382.55h0 M313.65 367.16h0 M323.58 378.39h0 M325.77 375.03h0 M313.89 380.53h0 M315.96 364.6h0 M315.63 370.43h0 M312.41 372.93h0 M325.54 395.08h0 M330.49 373.96h0 M326.77 376.58h0 M322.06 371.97h0 M319.03 364.34h0 M330.9 371.3h0 M323.22 372.66h0 M321.22 368.16h0 M317.12 384.09h0 M323.28 362.33h0 M324.92 367.14h0 M321.32 381.08h0 M315.42 374.71h0 M317.94 380.18h0 M325.32 387.5h0 M321.58 392.31h0 M313.48 390.67h0 M317.83 382.97h0 M318.7 377.77h0 M313.66 380.08h0 M332.38 378.26h0 M319.37 377.17h0 M324.04 375.58h0 M319.47 378.77h0 M327.79 384.37h0 M312.8 372.33h0 M319.63 383.57h0 M325.66 375.56h0" stroke="#eaa87c" stroke-width="0.9" stroke-linecap="round" opacity="0.65"/>
<path d="M355.49 371.62h0 M347.02 386.7h0 M349.24 375.08h0 M337.27 358.65h0 M309.6 367.37h0 M338.95 383.28h0 M329.3 383.04h0 M337.29 387.64h0 M311.8 365.29h0 M319.26 363.25h0 M349.87 364.38h0 M320.76 369.38h0 M340.89 368.78h0 M339.16 378.39h0 M319.72 361.31h0 M349.72 366.34h0 M317.92 376.74h0 M331.14 364.27h0 M343.37 381.85h0 M333.78 365.96h0 M320.24 353.68h0 M335.01 376.88h0 M319.68 373.4h0 M310.43 378.95h0 M325.49 368.46h0 M337.81 371.91h0 M342.2 378.05h0 M344.15 374.28h0 M305.12 386.04h0 M310.49 383.05h0 M333.46 359.95h0 M331.28 381.5h0 M318.49 373.54h0 M321.82 363.6h0 M323.24 385.25h0 M338.57 372.85h0 M329.54 374.34h0 M333.87 374.88h0 M310.29 381.87h0 M338.78 361.65h0 M328.83 372.23h0 M323.55 378.2h0 M327.29 370.47h0 M319.26 370.45h0 M318.3 373.51h0 M346.09 382.71h0 M335.54 360.17h0" stroke="#b8b8d0" stroke-width="0.7" stroke-linecap="round" opacity="0.5"/>
<path d="M305.56 388.09h0 M311.64 360.84h0 M299.6 377.25h0 M305.91 370.8h0 M297.26 399.95h0 M305.36 363.03h0 M299.62 391.8h0 M295.86 385.2h0 M300.09 367.57h0 M295.81 389.81h0 M306.49 374.93h0 M306.14 373.99h0 M300.96 379.89h0 M292.13 382.84h0 M297.21 356.56h0 M294.61 372.82h0 M294.57 371.7h0 M295.44 359.06h0 M304.75 380.69h0 M301 377.79h0 M299.88 377.82h0 M293.07 367.04h0 M299.94 388.79h0 M300.88 393.9h0 M291.45 377.79h0 M295.86 390.64h0 M309.5 375.58h0 M303.82 377.98h0 M293.61 379.11h0 M293.36 393.36h0 M302.98 390.25h0 M301.62 359.17h0 M304.24 380.83h0 M305.47 394.75h0 M293.46 386.83h0 M301.47 378.57h0 M297.83 384.6h0 M302.9 385.7h0 M297.09 368.7h0 M307.28 391.21h0 M296.17 379.77h0 M304.27 364.92h0 M302.45 400.86h0 M301.1 373.97h0 M311.56 380.11h0 M300.75 376.38h0 M300.57 364.58h0 M291.93 367.33h0 M304.82 379.24h0 M306.3 362.48h0 M295.96 392.58h0 M294.83 363.97h0 M295.1 377.05h0 M299.42 391.26h0 M307.34 393.4h0 M302.93 375.7h0 M296.58 367.27h0 M307.01 390.83h0 M300.03 372.34h0 M303.48 384.24h0 M300.41 370h0 M300.91 375.13h0 M303.86 385.17h0 M302.1 376.34h0 M308.48 386.7h0 M306.98 387.25h0 M303.41 383.39h0 M293.2 364.33h0 M293.98 385.31h0 M304.87 381.59h0 M300.03 395.85h0 M297.16 364.63h0 M290.38 377.24h0 M303.63 386.36h0 M298.2 387.06h0 M299.22 373.77h0 M297.27 386.53h0 M305.12 370.32h0 M293.68 381.07h0 M312.02 369.92h0 M292.12 383.62h0 M302.5 374.73h0 M299.35 384.19h0 M289.24 379.81h0 M303.04 387.97h0 M306.36 379.39h0 M291.02 391.59h0 M304.04 374.52h0 M305.59 388.97h0 M298.68 359.64h0 M296.74 373.48h0 M294.58 379.3h0 M293.14 383.37h0 M310.61 369.75h0 M305.62 375.42h0 M302.7 378.91h0 M307.05 373.88h0 M303.81 373.32h0 M300.85 379.88h0 M305.9 366.4h0 M291.57 392.01h0 M301.77 394.65h0 M293.45 381.82h0 M303.05 395.25h0 M299.19 376.14h0 M303.7 379.12h0 M295.1 386.58h0 M288.32 371.25h0 M307.5 375.69h0 M297.6 383.21h0 M306.09 384.56h0 M293.84 375.11h0 M305.66 378.98h0 M295.8 387.54h0 M306.2 398.77h0 M293.19 373.91h0 M295.43 383.07h0 M296.7 389.62h0" stroke="#c2dfa0" stroke-width="0.8" stroke-linecap="round" opacity="0.6"/>
<path d="M298 368.5 C299.92 368.5 302.83 368.92 304.5 370.5 C306.17 372.08 307.33 375.25 308 378 C308.67 380.75 308.83 384.42 308.5 387 C308.17 389.58 307.5 392 306 393.5 C304.5 395 301.67 396 299.5 396 C297.33 396 294.67 395.33 293 393.5 C291.33 391.67 290 387.92 289.5 385 C289 382.08 289.42 378.42 290 376 C290.58 373.58 291.67 371.75 293 370.5 C294.33 369.25 296.08 368.5 298 368.5Z" fill="#f2f8ea" stroke="#9cc870" stroke-width="0.6" opacity="1"/>
<path d="M298 373 C299.58 373.17 302.33 373.67 303.5 375 C304.67 376.33 305.08 379 305 381 C304.92 383 304.25 385.83 303 387 C301.75 388.17 299.25 388.33 297.5 388 C295.75 387.67 293.42 386.67 292.5 385 C291.58 383.33 291.75 379.83 292 378 C292.25 376.17 293 374.83 294 374 C295 373.17 296.42 372.83 298 373Z" fill="#ddeec8" stroke="#9cc870" stroke-width="0.6" opacity="1"/>
<path d="M298 376 C299.08 375.92 300.83 376.5 301.5 377.5 C302.17 378.5 302.5 380.83 302 382 C301.5 383.17 299.67 384.5 298.5 384.5 C297.33 384.5 295.58 383.08 295 382 C294.42 380.92 294.5 379 295 378 C295.5 377 296.92 376.08 298 376Z" fill="#cde5ad" stroke="#86bb4a" stroke-width="0.5" opacity="1"/>
<path d="M292 387 C292.42 387.83 293.5 390.55 294.5 392 C295.5 393.45 296.83 395.7 298 395.7 C299.17 395.7 300.92 392.62 301.5 392" fill="none" stroke="#a8cf80" stroke-width="0.6" opacity="1"/>
<path d="M295 365 C295.33 363.97 296.67 362.47 297.5 362.3 C298.33 362.13 299.17 364.05 300 364 C300.83 363.95 301.83 361.67 302.5 362 C303.17 362.33 304.5 364.83 304 366 C303.5 367.17 300.92 368.58 299.5 369 C298.08 369.42 296.25 369.17 295.5 368.5 C294.75 367.83 294.67 366.03 295 365Z" fill="#f2f8ea" stroke="#9cc870" stroke-width="0.6" opacity="1"/>
<path d="M297.5 365.5 C297.58 365.03 298.92 364.63 299.5 364.8 C300.08 364.97 301.08 366.03 301 366.5 C300.92 366.97 299.58 367.77 299 367.6 C298.42 367.43 297.42 365.97 297.5 365.5Z" fill="none" stroke="#86bb4a" stroke-width="0.5" opacity="1"/>
<path d="M307.5 389 C307.83 389.5 309.25 390.83 309.5 392 C309.75 393.17 309.08 395.33 309 396" fill="none" stroke="#86bb4a" stroke-width="0.7" opacity="1"/>
<path d="M316 372.5 C316.5 372.92 318.75 373.75 319 375 C319.25 376.25 318.5 378.5 317.5 380 C316.5 381.5 313.5 382.58 313 384 C312.5 385.42 313.5 387.58 314.5 388.5 C315.5 389.42 318.5 388.83 319 389.5 C319.5 390.17 318.58 392.17 317.5 392.5 C316.42 392.83 313.33 391.67 312.5 391.5" fill="none" stroke="#d07a45" stroke-width="0.8" opacity="1"/>
<path d="M313.5 376 C313.92 375.75 315.42 374.17 316 374.5 C316.58 374.83 317.42 376.75 317 378 C316.58 379.25 314.33 380.67 313.5 382 C312.67 383.33 311.75 384.42 312 386 C312.25 387.58 314.5 390.58 315 391.5" fill="none" stroke="#e29a6a" stroke-width="0.6" opacity="1"/>
<line x1="283.9" y1="388.83" x2="285.5" y2="388.83" stroke="#1a1a1a" stroke-width="0.8"/>
<line x1="283.9" y1="385.4" x2="285.5" y2="385.4" stroke="#1a1a1a" stroke-width="0.8"/>
<line x1="283.9" y1="382.96" x2="285.5" y2="382.96" stroke="#1a1a1a" stroke-width="0.8"/>
<line x1="283.9" y1="381.07" x2="285.5" y2="381.07" stroke="#1a1a1a" stroke-width="0.8"/>
<line x1="283.9" y1="379.53" x2="285.5" y2="379.53" stroke="#1a1a1a" stroke-width="0.8"/>
<line x1="283.9" y1="378.22" x2="285.5" y2="378.22" stroke="#1a1a1a" stroke-width="0.8"/>
<line x1="283.9" y1="377.09" x2="285.5" y2="377.09" stroke="#1a1a1a" stroke-width="0.8"/>
<line x1="283.9" y1="376.09" x2="285.5" y2="376.09" stroke="#1a1a1a" stroke-width="0.8"/>
<line x1="283.9" y1="370.02" x2="285.5" y2="370.02" stroke="#1a1a1a" stroke-width="0.8"/>
<line x1="283.9" y1="366.99" x2="285.5" y2="366.99" stroke="#1a1a1a" stroke-width="0.8"/>
<line x1="283.9" y1="364.84" x2="285.5" y2="364.84" stroke="#1a1a1a" stroke-width="0.8"/>
<line x1="283.9" y1="363.18" x2="285.5" y2="363.18" stroke="#1a1a1a" stroke-width="0.8"/>
<line x1="283.9" y1="361.82" x2="285.5" y2="361.82" stroke="#1a1a1a" stroke-width="0.8"/>
<line x1="283.9" y1="360.66" x2="285.5" y2="360.66" stroke="#1a1a1a" stroke-width="0.8"/>
<line x1="283.9" y1="359.67" x2="285.5" y2="359.67" stroke="#1a1a1a" stroke-width="0.8"/>
<line x1="283.9" y1="358.79" x2="285.5" y2="358.79" stroke="#1a1a1a" stroke-width="0.8"/>
<line x1="283.9" y1="397.83" x2="285.5" y2="397.83" stroke="#1a1a1a" stroke-width="0.8"/>
<line x1="283.9" y1="400.97" x2="285.5" y2="400.97" stroke="#1a1a1a" stroke-width="0.8"/>
<line x1="283.9" y1="404.1" x2="285.5" y2="404.1" stroke="#1a1a1a" stroke-width="0.8"/>
<line x1="283.9" y1="407.23" x2="285.5" y2="407.23" stroke="#1a1a1a" stroke-width="0.8"/>
<line x1="283.9" y1="410.37" x2="285.5" y2="410.37" stroke="#1a1a1a" stroke-width="0.8"/>
<line x1="283.9" y1="418.33" x2="285.5" y2="418.33" stroke="#1a1a1a" stroke-width="0.8"/>
<line x1="283.9" y1="423.17" x2="285.5" y2="423.17" stroke="#1a1a1a" stroke-width="0.8"/>
<line x1="282.3" y1="358" x2="285.5" y2="358" stroke="#1a1a1a" stroke-width="1.1"/>
<line x1="282.3" y1="375.2" x2="285.5" y2="375.2" stroke="#1a1a1a" stroke-width="1.1"/>
<line x1="282.3" y1="394.7" x2="285.5" y2="394.7" stroke="#1a1a1a" stroke-width="1.1"/>
<line x1="282.3" y1="413.5" x2="285.5" y2="413.5" stroke="#1a1a1a" stroke-width="1.1"/>
<line x1="307.97" y1="428" x2="307.97" y2="429.6" stroke="#1a1a1a" stroke-width="0.8"/>
<line x1="311.76" y1="428" x2="311.76" y2="429.6" stroke="#1a1a1a" stroke-width="0.8"/>
<line x1="314.44" y1="428" x2="314.44" y2="429.6" stroke="#1a1a1a" stroke-width="0.8"/>
<line x1="316.53" y1="428" x2="316.53" y2="429.6" stroke="#1a1a1a" stroke-width="0.8"/>
<line x1="318.23" y1="428" x2="318.23" y2="429.6" stroke="#1a1a1a" stroke-width="0.8"/>
<line x1="319.67" y1="428" x2="319.67" y2="429.6" stroke="#1a1a1a" stroke-width="0.8"/>
<line x1="320.92" y1="428" x2="320.92" y2="429.6" stroke="#1a1a1a" stroke-width="0.8"/>
<line x1="322.02" y1="428" x2="322.02" y2="429.6" stroke="#1a1a1a" stroke-width="0.8"/>
<line x1="328.87" y1="428" x2="328.87" y2="429.6" stroke="#1a1a1a" stroke-width="0.8"/>
<line x1="332.3" y1="428" x2="332.3" y2="429.6" stroke="#1a1a1a" stroke-width="0.8"/>
<line x1="334.74" y1="428" x2="334.74" y2="429.6" stroke="#1a1a1a" stroke-width="0.8"/>
<line x1="336.63" y1="428" x2="336.63" y2="429.6" stroke="#1a1a1a" stroke-width="0.8"/>
<line x1="338.17" y1="428" x2="338.17" y2="429.6" stroke="#1a1a1a" stroke-width="0.8"/>
<line x1="339.48" y1="428" x2="339.48" y2="429.6" stroke="#1a1a1a" stroke-width="0.8"/>
<line x1="340.61" y1="428" x2="340.61" y2="429.6" stroke="#1a1a1a" stroke-width="0.8"/>
<line x1="341.61" y1="428" x2="341.61" y2="429.6" stroke="#1a1a1a" stroke-width="0.8"/>
<line x1="348.16" y1="428" x2="348.16" y2="429.6" stroke="#1a1a1a" stroke-width="0.8"/>
<line x1="351.47" y1="428" x2="351.47" y2="429.6" stroke="#1a1a1a" stroke-width="0.8"/>
<line x1="353.82" y1="428" x2="353.82" y2="429.6" stroke="#1a1a1a" stroke-width="0.8"/>
<line x1="355.64" y1="428" x2="355.64" y2="429.6" stroke="#1a1a1a" stroke-width="0.8"/>
<line x1="357.13" y1="428" x2="357.13" y2="429.6" stroke="#1a1a1a" stroke-width="0.8"/>
<line x1="358.39" y1="428" x2="358.39" y2="429.6" stroke="#1a1a1a" stroke-width="0.8"/>
<line x1="359.48" y1="428" x2="359.48" y2="429.6" stroke="#1a1a1a" stroke-width="0.8"/>
<line x1="360.44" y1="428" x2="360.44" y2="429.6" stroke="#1a1a1a" stroke-width="0.8"/>
<line x1="296.85" y1="428" x2="296.85" y2="429.6" stroke="#1a1a1a" stroke-width="0.8"/>
<line x1="298.4" y1="428" x2="298.4" y2="429.6" stroke="#1a1a1a" stroke-width="0.8"/>
<line x1="299.95" y1="428" x2="299.95" y2="429.6" stroke="#1a1a1a" stroke-width="0.8"/>
<line x1="287.95" y1="428" x2="287.95" y2="429.6" stroke="#1a1a1a" stroke-width="0.8"/>
<line x1="290.4" y1="428" x2="290.4" y2="429.6" stroke="#1a1a1a" stroke-width="0.8"/>
<line x1="292.85" y1="428" x2="292.85" y2="429.6" stroke="#1a1a1a" stroke-width="0.8"/>
<line x1="285.5" y1="428" x2="285.5" y2="431.2" stroke="#1a1a1a" stroke-width="1.1"/>
<line x1="295.3" y1="428" x2="295.3" y2="431.2" stroke="#1a1a1a" stroke-width="1.1"/>
<line x1="301.5" y1="428" x2="301.5" y2="431.2" stroke="#1a1a1a" stroke-width="1.1"/>
<line x1="323" y1="428" x2="323" y2="431.2" stroke="#1a1a1a" stroke-width="1.1"/>
<line x1="342.5" y1="428" x2="342.5" y2="431.2" stroke="#1a1a1a" stroke-width="1.1"/>
<line x1="361.3" y1="428" x2="361.3" y2="431.2" stroke="#1a1a1a" stroke-width="1.1"/>
<rect x="310.1" y="357.2" width="48.3" height="64" fill="none" stroke="#5f5f5f" stroke-width="1"/>
<rect x="285.5" y="351" width="83.7" height="77" fill="none" stroke="#1a1a1a" stroke-width="1.4"/>
<text x="278.3" y="360.2" font-size="6" text-anchor="end" fill="#222" stroke="#222" stroke-width="0.26">10<tspan dy="-2.4" font-size="3.7">5</tspan></text>
<text x="278.3" y="377.4" font-size="6" text-anchor="end" fill="#222" stroke="#222" stroke-width="0.26">10<tspan dy="-2.4" font-size="3.7">4</tspan></text>
<text x="278.3" y="396.9" font-size="6" text-anchor="end" fill="#222" stroke="#222" stroke-width="0.26">10<tspan dy="-2.4" font-size="3.7">3</tspan></text>
<text x="278.7" y="415.7" font-size="6" text-anchor="end" fill="#222" stroke="#222" stroke-width="0.26">0</text>
<text x="279.3" y="430.2" font-size="6" text-anchor="end" fill="#222" stroke="#222" stroke-width="0.26">-630</text>
<text x="283.3" y="440.3" font-size="6" text-anchor="middle" fill="#222" stroke="#222" stroke-width="0.26">-173</text>
<text x="295.1" y="440.3" font-size="6" text-anchor="middle" fill="#222" stroke="#222" stroke-width="0.26">0</text>
<text x="302.1" y="440.3" font-size="6" text-anchor="middle" fill="#222" stroke="#222" stroke-width="0.26">10<tspan dy="-2.4" font-size="3.7">2</tspan></text>
<text x="322.9" y="440.3" font-size="6" text-anchor="middle" fill="#222" stroke="#222" stroke-width="0.26">10<tspan dy="-2.4" font-size="3.7">3</tspan></text>
<text x="342.8" y="440.3" font-size="6" text-anchor="middle" fill="#222" stroke="#222" stroke-width="0.26">10<tspan dy="-2.4" font-size="3.7">4</tspan></text>
<text x="361.8" y="440.3" font-size="6" text-anchor="middle" fill="#222" stroke="#222" stroke-width="0.26">10<tspan dy="-2.4" font-size="3.7">5</tspan></text>
<text x="327.1" y="452.7" font-size="10.5" text-anchor="middle" textLength="27" lengthAdjust="spacingAndGlyphs" fill="#222" stroke="#222" stroke-width="0.17">NKG2C</text>
<text transform="translate(261.1,389.6) rotate(-90)" font-size="10.3" text-anchor="middle" textLength="21" lengthAdjust="spacingAndGlyphs" fill="#222" stroke="#222" stroke-width="0.17">CD56</text>
<text x="327.3" y="345.7" font-size="10" text-anchor="middle" textLength="18.8" lengthAdjust="spacingAndGlyphs" fill="#222" stroke="#222" stroke-width="0.08">HD2</text>
<text x="312.8" y="410.9" font-size="7.2" textLength="43" lengthAdjust="spacingAndGlyphs" fill="#222" stroke="#222" stroke-width="0.12">NKG2C+ NK</text>
<line x1="407.7" y1="264" x2="407.7" y2="375.7" stroke="#1a1a1a" stroke-width="1.4"/>
<line x1="407" y1="375.1" x2="513" y2="375.1" stroke="#1a1a1a" stroke-width="1.4"/>
<line x1="404.7" y1="375.1" x2="407.7" y2="375.1" stroke="#1a1a1a" stroke-width="1.1"/>
<text x="401.5" y="377.7" font-size="7.5" text-anchor="end" fill="#222" stroke="#222" stroke-width="0.26">0</text>
<line x1="404.7" y1="353.6" x2="407.7" y2="353.6" stroke="#1a1a1a" stroke-width="1.1"/>
<text x="401.5" y="356.2" font-size="7.5" text-anchor="end" fill="#222" stroke="#222" stroke-width="0.26">20</text>
<line x1="404.7" y1="332.1" x2="407.7" y2="332.1" stroke="#1a1a1a" stroke-width="1.1"/>
<text x="401.5" y="334.7" font-size="7.5" text-anchor="end" fill="#222" stroke="#222" stroke-width="0.26">40</text>
<line x1="404.7" y1="310.6" x2="407.7" y2="310.6" stroke="#1a1a1a" stroke-width="1.1"/>
<text x="401.5" y="313.2" font-size="7.5" text-anchor="end" fill="#222" stroke="#222" stroke-width="0.26">60</text>
<line x1="404.7" y1="289.1" x2="407.7" y2="289.1" stroke="#1a1a1a" stroke-width="1.1"/>
<text x="401.5" y="291.7" font-size="7.5" text-anchor="end" fill="#222" stroke="#222" stroke-width="0.26">80</text>
<line x1="404.7" y1="267.6" x2="407.7" y2="267.6" stroke="#1a1a1a" stroke-width="1.1"/>
<text x="401.5" y="270.2" font-size="7.5" text-anchor="end" fill="#222" stroke="#222" stroke-width="0.26">100</text>
<rect x="416.6" y="280.93" width="34.8" height="94.17" fill="#4b5366"/>
<line x1="486.6" y1="362.4" x2="486.6" y2="365" stroke="#444" stroke-width="1.1"/>
<line x1="478" y1="362.4" x2="495.4" y2="362.4" stroke="#444" stroke-width="1.1"/>
<rect x="469.2" y="364.24" width="34.9" height="10.86" fill="#aa0630"/>
<line x1="433.9" y1="375.1" x2="433.9" y2="377.9" stroke="#1a1a1a" stroke-width="1.1"/>
<line x1="486.6" y1="375.1" x2="486.6" y2="377.9" stroke="#1a1a1a" stroke-width="1.1"/>
<text transform="translate(440.2,384.6) rotate(-45)" font-size="8.2" text-anchor="end" fill="#222" stroke="#222" stroke-width="0.26">301</text>
<text transform="translate(490.9,384.6) rotate(-45)" font-size="8.2" text-anchor="end" fill="#222" stroke="#222" stroke-width="0.26">others</text>
<text transform="translate(383,371.4) rotate(-90)" font-size="9.4" fill="#222" stroke="#222" stroke-width="0.12" textLength="105.5" lengthAdjust="spacingAndGlyphs">% NKG2C<tspan dy="-2.8" font-size="5.5">+</tspan><tspan dy="2.8"> (of CD3</tspan><tspan dy="-2.8" font-size="5.5">-</tspan><tspan dy="2.8">/CD56</tspan><tspan dy="-2.8" font-size="5.5">+</tspan><tspan dy="2.8">)</tspan></text>
<line x1="180" y1="495.2" x2="180" y2="611.35" stroke="#1a1a1a" stroke-width="1.4"/>
<line x1="349.5" y1="495.2" x2="349.5" y2="611.35" stroke="#1a1a1a" stroke-width="1.4"/>
<line x1="179.3" y1="610.75" x2="350.2" y2="610.75" stroke="#1a1a1a" stroke-width="1.4"/>
<line x1="177" y1="610.75" x2="180" y2="610.75" stroke="#1a1a1a" stroke-width="1.1"/>
<text x="173.8" y="613.35" font-size="7.5" text-anchor="end" textLength="19.6" lengthAdjust="spacingAndGlyphs" fill="#222" stroke="#222" stroke-width="0.26">0.000</text>
<line x1="177" y1="588.3" x2="180" y2="588.3" stroke="#1a1a1a" stroke-width="1.1"/>
<text x="173.8" y="590.9" font-size="7.5" text-anchor="end" textLength="19.6" lengthAdjust="spacingAndGlyphs" fill="#222" stroke="#222" stroke-width="0.26">0.002</text>
<line x1="177" y1="565.85" x2="180" y2="565.85" stroke="#1a1a1a" stroke-width="1.1"/>
<text x="173.8" y="568.45" font-size="7.5" text-anchor="end" textLength="19.6" lengthAdjust="spacingAndGlyphs" fill="#222" stroke="#222" stroke-width="0.26">0.004</text>
<line x1="177" y1="543.4" x2="180" y2="543.4" stroke="#1a1a1a" stroke-width="1.1"/>
<text x="173.8" y="546" font-size="7.5" text-anchor="end" textLength="19.6" lengthAdjust="spacingAndGlyphs" fill="#222" stroke="#222" stroke-width="0.26">0.006</text>
<line x1="177" y1="520.95" x2="180" y2="520.95" stroke="#1a1a1a" stroke-width="1.1"/>
<text x="173.8" y="523.55" font-size="7.5" text-anchor="end" textLength="19.6" lengthAdjust="spacingAndGlyphs" fill="#222" stroke="#222" stroke-width="0.26">0.008</text>
<line x1="177" y1="498.5" x2="180" y2="498.5" stroke="#1a1a1a" stroke-width="1.1"/>
<text x="173.8" y="501.1" font-size="7.5" text-anchor="end" textLength="19.6" lengthAdjust="spacingAndGlyphs" fill="#222" stroke="#222" stroke-width="0.26">0.010</text>
<line x1="349.5" y1="610.75" x2="352.5" y2="610.75" stroke="#1a1a1a" stroke-width="1.1"/>
<text x="355.4" y="613.35" font-size="7.5" fill="#8e1d43" stroke="#8e1d43" stroke-width="0.26">0</text>
<line x1="349.5" y1="573.33" x2="352.5" y2="573.33" stroke="#1a1a1a" stroke-width="1.1"/>
<text x="355.4" y="575.93" font-size="7.5" fill="#8e1d43" stroke="#8e1d43" stroke-width="0.26">200</text>
<line x1="349.5" y1="535.92" x2="352.5" y2="535.92" stroke="#1a1a1a" stroke-width="1.1"/>
<text x="355.4" y="538.52" font-size="7.5" fill="#8e1d43" stroke="#8e1d43" stroke-width="0.26">400</text>
<line x1="349.5" y1="498.5" x2="352.5" y2="498.5" stroke="#1a1a1a" stroke-width="1.1"/>
<text x="355.4" y="501.1" font-size="7.5" fill="#8e1d43" stroke="#8e1d43" stroke-width="0.26">600</text>
<line x1="180" y1="610.75" x2="180" y2="613.75" stroke="#1a1a1a" stroke-width="1.1"/>
<line x1="222.38" y1="610.75" x2="222.38" y2="613.75" stroke="#1a1a1a" stroke-width="1.1"/>
<line x1="264.75" y1="610.75" x2="264.75" y2="613.75" stroke="#1a1a1a" stroke-width="1.1"/>
<line x1="307.12" y1="610.75" x2="307.12" y2="613.75" stroke="#1a1a1a" stroke-width="1.1"/>
<line x1="349.5" y1="610.75" x2="349.5" y2="613.75" stroke="#1a1a1a" stroke-width="1.1"/>
<text x="180" y="623.8" font-size="7.5" text-anchor="middle" fill="#222" stroke="#222" stroke-width="0.26">0</text>
<text x="264.75" y="623.8" font-size="7.5" text-anchor="middle" fill="#222" stroke="#222" stroke-width="0.26">50</text>
<text x="349.5" y="623.8" font-size="7.5" text-anchor="middle" fill="#222" stroke="#222" stroke-width="0.26">100</text>
<text x="209.3" y="489.6" font-size="10.6" textLength="111.8" lengthAdjust="spacingAndGlyphs" fill="#222" stroke="#222" stroke-width="0.17">PBMC EBV and NK count</text>
<text x="219.5" y="637.6" font-size="10" textLength="89.9" lengthAdjust="spacingAndGlyphs" fill="#222" stroke="#222" stroke-width="0.17">Months post-transplant</text>
<text transform="translate(148.6,552.5) rotate(-90)" font-size="8.8" text-anchor="middle" textLength="95" lengthAdjust="spacingAndGlyphs" fill="#222" stroke="#222" stroke-width="0.17">PBMC EBV copy number</text>
<text transform="translate(375.4,553) rotate(90)" font-size="8.8" text-anchor="middle" fill="#8e1d43" textLength="44.3" lengthAdjust="spacingAndGlyphs">NK cells/µL</text>
<line x1="261.36" y1="537.5" x2="261.36" y2="573" stroke="#3a4f70" stroke-width="1"/>
<line x1="258.96" y1="537.5" x2="263.76" y2="537.5" stroke="#3a4f70" stroke-width="1"/>
<line x1="258.96" y1="573" x2="263.76" y2="573" stroke="#3a4f70" stroke-width="1"/>
<line x1="271.53" y1="597" x2="271.53" y2="609.6" stroke="#3a4f70" stroke-width="1"/>
<line x1="269.13" y1="597" x2="273.93" y2="597" stroke="#3a4f70" stroke-width="1"/>
<line x1="269.13" y1="609.6" x2="273.93" y2="609.6" stroke="#3a4f70" stroke-width="1"/>
<line x1="281.7" y1="507.9" x2="281.7" y2="561" stroke="#3a4f70" stroke-width="1"/>
<line x1="279.3" y1="507.9" x2="284.1" y2="507.9" stroke="#3a4f70" stroke-width="1"/>
<line x1="279.3" y1="561" x2="284.1" y2="561" stroke="#3a4f70" stroke-width="1"/>
<line x1="312.21" y1="522.7" x2="312.21" y2="602.2" stroke="#3a4f70" stroke-width="1"/>
<line x1="309.81" y1="522.7" x2="314.61" y2="522.7" stroke="#3a4f70" stroke-width="1"/>
<line x1="309.81" y1="602.2" x2="314.61" y2="602.2" stroke="#3a4f70" stroke-width="1"/>
<line x1="342.72" y1="581" x2="342.72" y2="604.9" stroke="#3a4f70" stroke-width="1"/>
<line x1="340.32" y1="581" x2="345.12" y2="581" stroke="#3a4f70" stroke-width="1"/>
<line x1="340.32" y1="604.9" x2="345.12" y2="604.9" stroke="#3a4f70" stroke-width="1"/>
<polyline points="188.47,606.25 205.43,600.5 210.51,598 220.68,603.75 230.85,608 241.02,608.75 261.36,589.2 271.53,581.7 281.7,545.6 302.04,510.8 342.72,579" fill="none" stroke="#a0103a" stroke-width="1.7" stroke-linejoin="round"/>
<rect x="186.38" y="604.15" width="4.2" height="4.2" fill="#a0103a"/>
<rect x="203.33" y="598.4" width="4.2" height="4.2" fill="#a0103a"/>
<rect x="208.41" y="595.9" width="4.2" height="4.2" fill="#a0103a"/>
<rect x="218.58" y="601.65" width="4.2" height="4.2" fill="#a0103a"/>
<rect x="228.75" y="605.9" width="4.2" height="4.2" fill="#a0103a"/>
<rect x="238.92" y="606.65" width="4.2" height="4.2" fill="#a0103a"/>
<rect x="259.26" y="587.1" width="4.2" height="4.2" fill="#a0103a"/>
<rect x="269.43" y="579.6" width="4.2" height="4.2" fill="#a0103a"/>
<rect x="279.6" y="543.5" width="4.2" height="4.2" fill="#a0103a"/>
<rect x="299.94" y="508.7" width="4.2" height="4.2" fill="#a0103a"/>
<rect x="340.62" y="576.9" width="4.2" height="4.2" fill="#a0103a"/>
<polyline points="188.47,610.75 205.43,610.75 210.51,610.75 220.68,610.75 230.85,610.75 241.02,610.75 261.36,555.6 271.53,602.2 281.7,535.4 312.21,562.3 342.72,590.6" fill="none" stroke="#22406a" stroke-width="1.7" stroke-linejoin="round"/>
<circle cx="188.47" cy="610.75" r="2.1" fill="#22406a"/>
<circle cx="205.43" cy="610.75" r="2.1" fill="#22406a"/>
<circle cx="210.51" cy="610.75" r="2.1" fill="#22406a"/>
<circle cx="220.68" cy="610.75" r="2.1" fill="#22406a"/>
<circle cx="230.85" cy="610.75" r="2.1" fill="#22406a"/>
<circle cx="241.02" cy="610.75" r="2.1" fill="#22406a"/>
<circle cx="261.36" cy="555.6" r="2.1" fill="#22406a"/>
<circle cx="271.53" cy="602.2" r="2.1" fill="#22406a"/>
<circle cx="281.7" cy="535.4" r="2.1" fill="#22406a"/>
<circle cx="312.21" cy="562.3" r="2.1" fill="#22406a"/>
<circle cx="342.72" cy="590.6" r="2.1" fill="#22406a"/>
<rect x="0" y="0" width="1" height="647" fill="#000"/>
<rect x="1" y="1" width="1" height="644" fill="#8a8a8a"/>
<rect x="0" y="0" width="520" height="1" fill="#000"/>
<rect x="1" y="1" width="517" height="1" fill="#a0a0a0"/>
<rect x="518" y="1" width="1" height="645" fill="#707070"/>
<rect x="519" y="0" width="1" height="647" fill="#000"/>
<rect x="1" y="645" width="518" height="1" fill="#404040"/>
<rect x="0" y="646" width="520" height="1" fill="#000"/>
</svg>
</body></html>
